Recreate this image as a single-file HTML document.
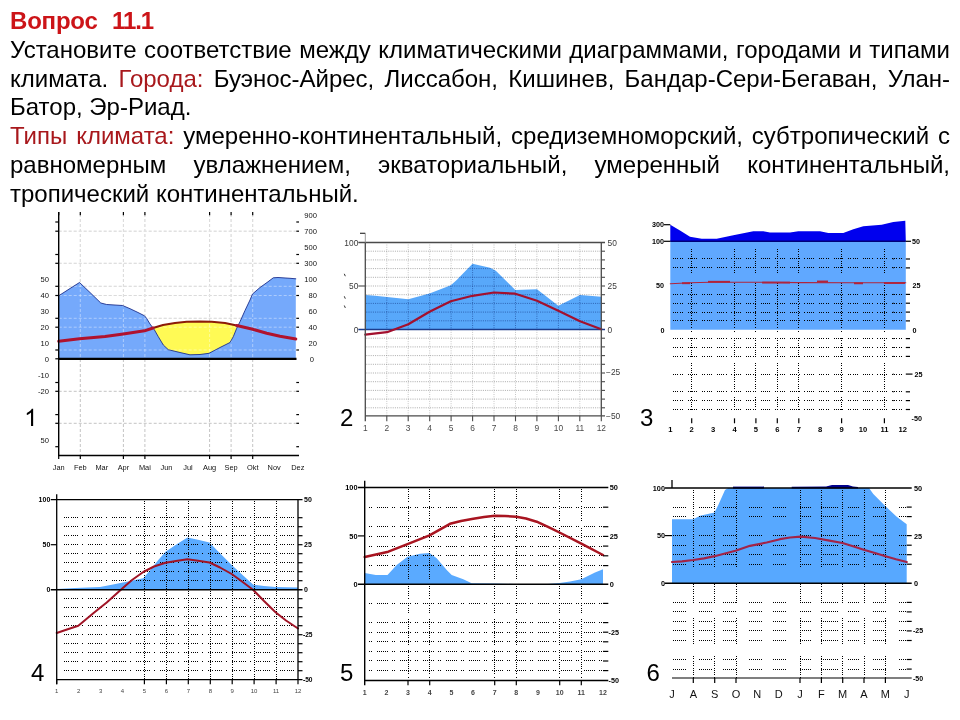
<!DOCTYPE html>
<html lang="ru"><head><meta charset="utf-8"><title>Вопрос 11.1</title>
<style>
html,body{margin:0;padding:0;background:#fff;}
body{width:960px;height:720px;position:relative;overflow:hidden;font-family:"Liberation Sans",sans-serif;color:#000;}
#txt{will-change:transform;position:absolute;left:10px;top:7.1px;width:940px;font-size:24px;line-height:28.8px;}
#txt div{white-space:normal;text-align:justify;text-align-last:justify;height:28.8px;overflow:visible;}
#txt div.l{text-align:left;text-align-last:left;}
#txt .t{font-weight:bold;color:#cc1418;}
#txt .r{color:#a8181c;}
svg{position:absolute;left:0;top:0;will-change:transform;}
</style></head><body>
<div id="txt">
<div class="l t"><span style="letter-spacing:-0.2px">Вопрос</span><span style="letter-spacing:-1.1px;margin-left:14.4px">11.1</span></div>
<div>Установите соответствие между климатическими диаграммами, городами и типами</div>
<div>климата. <span class="r">Города:</span> Буэнос-Айрес, Лиссабон, Кишинев, Бандар-Сери-Бегаван, Улан-</div>
<div class="l">Батор, Эр-Риад.</div>
<div><span class="r">Типы климата:</span> умеренно-континентальный, средиземноморский, субтропический с</div>
<div>равномерным увлажнением, экваториальный, умеренный континентальный,</div>
<div class="l">тропический континентальный.</div>
</div>
<svg width="960" height="720" viewBox="0 0 960 720" font-family="Liberation Sans, sans-serif">
<g id="c1">
<line x1="58.7" y1="231.2" x2="295.8" y2="231.2" stroke="#c4c4c4" stroke-width="1" stroke-dasharray="3 2"/>
<line x1="58.7" y1="263.3" x2="295.8" y2="263.3" stroke="#c4c4c4" stroke-width="1" stroke-dasharray="3 2"/>
<line x1="58.7" y1="286.3" x2="295.8" y2="286.3" stroke="#c4c4c4" stroke-width="1" stroke-dasharray="3 2"/>
<line x1="58.7" y1="295.5" x2="295.8" y2="295.5" stroke="#c4c4c4" stroke-width="1" stroke-dasharray="3 2"/>
<line x1="58.7" y1="318.3" x2="295.8" y2="318.3" stroke="#c4c4c4" stroke-width="1" stroke-dasharray="3 2"/>
<line x1="58.7" y1="327.2" x2="295.8" y2="327.2" stroke="#c4c4c4" stroke-width="1" stroke-dasharray="3 2"/>
<line x1="58.7" y1="350" x2="295.8" y2="350" stroke="#c4c4c4" stroke-width="1" stroke-dasharray="3 2"/>
<line x1="58.7" y1="391.3" x2="295.8" y2="391.3" stroke="#c4c4c4" stroke-width="1" stroke-dasharray="3 2"/>
<line x1="58.7" y1="423.3" x2="295.8" y2="423.3" stroke="#c4c4c4" stroke-width="1" stroke-dasharray="3 2"/>
<line x1="80.3" y1="214" x2="80.3" y2="455.5" stroke="#c4c4c4" stroke-width="1" stroke-dasharray="3 2"/>
<line x1="123.4" y1="214" x2="123.4" y2="455.5" stroke="#c4c4c4" stroke-width="1" stroke-dasharray="3 2"/>
<line x1="144.9" y1="214" x2="144.9" y2="455.5" stroke="#c4c4c4" stroke-width="1" stroke-dasharray="3 2"/>
<line x1="209.6" y1="214" x2="209.6" y2="455.5" stroke="#c4c4c4" stroke-width="1" stroke-dasharray="3 2"/>
<line x1="231.1" y1="214" x2="231.1" y2="455.5" stroke="#c4c4c4" stroke-width="1" stroke-dasharray="3 2"/>
<line x1="252.7" y1="214" x2="252.7" y2="455.5" stroke="#c4c4c4" stroke-width="1" stroke-dasharray="3 2"/>
<polygon points="150,358.8 153,328 163,325 175,323 186.7,321.8 200,321.5 211.7,321.8 225,323 236.7,325.5 239,358.8" fill="#fffa55" stroke="none" stroke-width="0"/>
<polygon points="58.7,358.8 58.7,295.8 70,288.5 79.5,282.5 90,292.5 100.8,303 106.7,304.5 122.5,305.5 130,308.7 138,312.5 144.5,315.8 146.7,318.5 150,324 154.2,329.5 158.3,336.7 163.3,345 168.3,349.7 180,352.5 190,354.8 200,354.5 209,353.3 220,347.5 230,342.5 233.3,336.7 236.7,328.3 240,321.7 245,310.5 250,300 252.5,294 260,287.5 267,282.5 273.3,277.8 278,277.5 290,278.3 295.8,278.8 295.8,358.8" fill="#75a9fb" stroke="none" stroke-width="0"/>
<line x1="58.7" y1="231.2" x2="295.8" y2="231.2" stroke="#ffffff" stroke-width="1" stroke-dasharray="3 2" opacity="0.4"/>
<line x1="58.7" y1="263.3" x2="295.8" y2="263.3" stroke="#ffffff" stroke-width="1" stroke-dasharray="3 2" opacity="0.4"/>
<line x1="58.7" y1="286.3" x2="295.8" y2="286.3" stroke="#ffffff" stroke-width="1" stroke-dasharray="3 2" opacity="0.4"/>
<line x1="58.7" y1="295.5" x2="295.8" y2="295.5" stroke="#ffffff" stroke-width="1" stroke-dasharray="3 2" opacity="0.4"/>
<line x1="58.7" y1="318.3" x2="295.8" y2="318.3" stroke="#ffffff" stroke-width="1" stroke-dasharray="3 2" opacity="0.4"/>
<line x1="58.7" y1="327.2" x2="295.8" y2="327.2" stroke="#ffffff" stroke-width="1" stroke-dasharray="3 2" opacity="0.4"/>
<line x1="58.7" y1="350" x2="295.8" y2="350" stroke="#ffffff" stroke-width="1" stroke-dasharray="3 2" opacity="0.4"/>
<line x1="80.3" y1="214" x2="80.3" y2="358.8" stroke="#ffffff" stroke-width="1" stroke-dasharray="3 2" opacity="0.4"/>
<line x1="123.4" y1="214" x2="123.4" y2="358.8" stroke="#ffffff" stroke-width="1" stroke-dasharray="3 2" opacity="0.4"/>
<line x1="144.9" y1="214" x2="144.9" y2="358.8" stroke="#ffffff" stroke-width="1" stroke-dasharray="3 2" opacity="0.4"/>
<line x1="209.6" y1="214" x2="209.6" y2="358.8" stroke="#ffffff" stroke-width="1" stroke-dasharray="3 2" opacity="0.4"/>
<line x1="231.1" y1="214" x2="231.1" y2="358.8" stroke="#ffffff" stroke-width="1" stroke-dasharray="3 2" opacity="0.4"/>
<line x1="252.7" y1="214" x2="252.7" y2="358.8" stroke="#ffffff" stroke-width="1" stroke-dasharray="3 2" opacity="0.4"/>
<polyline points="58.7,295.8 70,288.5 79.5,282.5 90,292.5 100.8,303 106.7,304.5 122.5,305.5 130,308.7 138,312.5 144.5,315.8 146.7,318.5 150,324 154.2,329.5 158.3,336.7 163.3,345 168.3,349.7 180,352.5 190,354.8 200,354.5 209,353.3 220,347.5 230,342.5 233.3,336.7 236.7,328.3 240,321.7 245,310.5 250,300 252.5,294 260,287.5 267,282.5 273.3,277.8 278,277.5 290,278.3 295.8,278.8" fill="none" stroke="#1c2f8c" stroke-width="0.9" stroke-linejoin="round" stroke-linecap="round"/>
<polyline points="153,328 163,325 175,323 186.7,321.8 200,321.5 211.7,321.8 225,323 236.7,325.5" fill="none" stroke="#8c1a08" stroke-width="2.1" stroke-linejoin="round" stroke-linecap="round"/>
<polyline points="58.7,341.3 79.5,338.7 105,336.6 123.3,334 144.5,330.8 153,328" fill="none" stroke="#b0122e" stroke-width="3" stroke-linejoin="round" stroke-linecap="round"/>
<polyline points="236.7,325.5 251.7,329 266.7,333.3 280,336.3 295.8,339" fill="none" stroke="#b0122e" stroke-width="3" stroke-linejoin="round" stroke-linecap="round"/>
<line x1="58.7" y1="212" x2="58.7" y2="456.1" stroke="#000" stroke-width="1.4"/>
<line x1="58" y1="455.5" x2="299" y2="455.5" stroke="#000" stroke-width="1.4"/>
<line x1="58.7" y1="358.8" x2="296.5" y2="358.8" stroke="#000" stroke-width="2.2"/>
<line x1="55.3" y1="222" x2="58.7" y2="222" stroke="#000" stroke-width="1.2"/>
<line x1="296.3" y1="222" x2="299" y2="222" stroke="#000" stroke-width="1.2"/>
<line x1="55.3" y1="231.2" x2="58.7" y2="231.2" stroke="#000" stroke-width="1.2"/>
<line x1="296.3" y1="231.2" x2="299" y2="231.2" stroke="#000" stroke-width="1.2"/>
<line x1="55.3" y1="254.5" x2="58.7" y2="254.5" stroke="#000" stroke-width="1.2"/>
<line x1="296.3" y1="254.5" x2="299" y2="254.5" stroke="#000" stroke-width="1.2"/>
<line x1="55.3" y1="263.3" x2="58.7" y2="263.3" stroke="#000" stroke-width="1.2"/>
<line x1="296.3" y1="263.3" x2="299" y2="263.3" stroke="#000" stroke-width="1.2"/>
<line x1="55.3" y1="286.3" x2="58.7" y2="286.3" stroke="#000" stroke-width="1.2"/>
<line x1="296.3" y1="286.3" x2="299" y2="286.3" stroke="#000" stroke-width="1.2"/>
<line x1="55.3" y1="295.5" x2="58.7" y2="295.5" stroke="#000" stroke-width="1.2"/>
<line x1="296.3" y1="295.5" x2="299" y2="295.5" stroke="#000" stroke-width="1.2"/>
<line x1="55.3" y1="318.3" x2="58.7" y2="318.3" stroke="#000" stroke-width="1.2"/>
<line x1="296.3" y1="318.3" x2="299" y2="318.3" stroke="#000" stroke-width="1.2"/>
<line x1="55.3" y1="327.2" x2="58.7" y2="327.2" stroke="#000" stroke-width="1.2"/>
<line x1="296.3" y1="327.2" x2="299" y2="327.2" stroke="#000" stroke-width="1.2"/>
<line x1="55.3" y1="350" x2="58.7" y2="350" stroke="#000" stroke-width="1.2"/>
<line x1="296.3" y1="350" x2="299" y2="350" stroke="#000" stroke-width="1.2"/>
<line x1="55.3" y1="382.5" x2="58.7" y2="382.5" stroke="#000" stroke-width="1.2"/>
<line x1="296.3" y1="382.5" x2="299" y2="382.5" stroke="#000" stroke-width="1.2"/>
<line x1="55.3" y1="391.3" x2="58.7" y2="391.3" stroke="#000" stroke-width="1.2"/>
<line x1="296.3" y1="391.3" x2="299" y2="391.3" stroke="#000" stroke-width="1.2"/>
<line x1="55.3" y1="414.6" x2="58.7" y2="414.6" stroke="#000" stroke-width="1.2"/>
<line x1="296.3" y1="414.6" x2="299" y2="414.6" stroke="#000" stroke-width="1.2"/>
<line x1="55.3" y1="423.3" x2="58.7" y2="423.3" stroke="#000" stroke-width="1.2"/>
<line x1="296.3" y1="423.3" x2="299" y2="423.3" stroke="#000" stroke-width="1.2"/>
<line x1="55.3" y1="446.7" x2="58.7" y2="446.7" stroke="#000" stroke-width="1.2"/>
<line x1="296.3" y1="446.7" x2="299" y2="446.7" stroke="#000" stroke-width="1.2"/>
<line x1="55.3" y1="358.8" x2="58.7" y2="358.8" stroke="#000" stroke-width="1.2"/>
<line x1="58.7" y1="212" x2="58.7" y2="215.2" stroke="#000" stroke-width="1.2"/>
<line x1="58.7" y1="455.5" x2="58.7" y2="459" stroke="#000" stroke-width="1.2"/>
<line x1="80.3" y1="212" x2="80.3" y2="215.2" stroke="#000" stroke-width="1.2"/>
<line x1="80.3" y1="455.5" x2="80.3" y2="459" stroke="#000" stroke-width="1.2"/>
<line x1="123.4" y1="212" x2="123.4" y2="215.2" stroke="#000" stroke-width="1.2"/>
<line x1="123.4" y1="455.5" x2="123.4" y2="459" stroke="#000" stroke-width="1.2"/>
<line x1="144.9" y1="212" x2="144.9" y2="215.2" stroke="#000" stroke-width="1.2"/>
<line x1="144.9" y1="455.5" x2="144.9" y2="459" stroke="#000" stroke-width="1.2"/>
<line x1="209.6" y1="212" x2="209.6" y2="215.2" stroke="#000" stroke-width="1.2"/>
<line x1="209.6" y1="455.5" x2="209.6" y2="459" stroke="#000" stroke-width="1.2"/>
<line x1="231.1" y1="212" x2="231.1" y2="215.2" stroke="#000" stroke-width="1.2"/>
<line x1="231.1" y1="455.5" x2="231.1" y2="459" stroke="#000" stroke-width="1.2"/>
<line x1="252.7" y1="212" x2="252.7" y2="215.2" stroke="#000" stroke-width="1.2"/>
<line x1="252.7" y1="455.5" x2="252.7" y2="459" stroke="#000" stroke-width="1.2"/>
<text x="49" y="281.7" font-size="7.6" text-anchor="end" fill="#111">50</text>
<text x="49" y="298.2" font-size="7.6" text-anchor="end" fill="#111">40</text>
<text x="49" y="313.7" font-size="7.6" text-anchor="end" fill="#111">30</text>
<text x="49" y="329.7" font-size="7.6" text-anchor="end" fill="#111">20</text>
<text x="49" y="346.1" font-size="7.6" text-anchor="end" fill="#111">10</text>
<text x="49" y="362.2" font-size="7.6" text-anchor="end" fill="#111">0</text>
<text x="49" y="378.4" font-size="7.6" text-anchor="end" fill="#111">-10</text>
<text x="49" y="394.3" font-size="7.6" text-anchor="end" fill="#111">-20</text>
<text x="49" y="443" font-size="7.6" text-anchor="end" fill="#111">50</text>
<text x="317" y="218" font-size="7.6" text-anchor="end" fill="#111">900</text>
<text x="317" y="233.7" font-size="7.6" text-anchor="end" fill="#111">700</text>
<text x="317" y="249.7" font-size="7.6" text-anchor="end" fill="#111">500</text>
<text x="317" y="266.2" font-size="7.6" text-anchor="end" fill="#111">300</text>
<text x="317" y="281.7" font-size="7.6" text-anchor="end" fill="#111">100</text>
<text x="317" y="298.2" font-size="7.6" text-anchor="end" fill="#111">80</text>
<text x="317" y="313.7" font-size="7.6" text-anchor="end" fill="#111">60</text>
<text x="317" y="329.7" font-size="7.6" text-anchor="end" fill="#111">40</text>
<text x="317" y="346.1" font-size="7.6" text-anchor="end" fill="#111">20</text>
<text x="314" y="362.2" font-size="7.6" text-anchor="end" fill="#111">0</text>
<text x="58.7" y="469.6" font-size="7.4" text-anchor="middle" fill="#111">Jan</text>
<text x="80.3" y="469.6" font-size="7.4" text-anchor="middle" fill="#111">Feb</text>
<text x="101.8" y="469.6" font-size="7.4" text-anchor="middle" fill="#111">Mar</text>
<text x="123.4" y="469.6" font-size="7.4" text-anchor="middle" fill="#111">Apr</text>
<text x="144.9" y="469.6" font-size="7.4" text-anchor="middle" fill="#111">Mai</text>
<text x="166.5" y="469.6" font-size="7.4" text-anchor="middle" fill="#111">Jun</text>
<text x="188" y="469.6" font-size="7.4" text-anchor="middle" fill="#111">Jul</text>
<text x="209.6" y="469.6" font-size="7.4" text-anchor="middle" fill="#111">Aug</text>
<text x="231.1" y="469.6" font-size="7.4" text-anchor="middle" fill="#111">Sep</text>
<text x="252.7" y="469.6" font-size="7.4" text-anchor="middle" fill="#111">Okt</text>
<text x="274.2" y="469.6" font-size="7.4" text-anchor="middle" fill="#111">Nov</text>
<text x="297.8" y="469.6" font-size="7.4" text-anchor="middle" fill="#111">Dez</text>
<path transform="translate(24.2 426) scale(0.01172 -0.01172)" d="M 763 0 H 583 V 1147 Q 518 1085 412.5 1023 Q 307 961 223 930 V 1104 Q 374 1175 487 1276 Q 600 1377 647 1472 H 763 Z" fill="#000"/>
</g>
<g id="c2">
<line x1="366.3" y1="251.2" x2="600.3" y2="251.2" stroke="#777" stroke-width="1" stroke-dasharray="1 1.2" opacity="0.62"/>
<line x1="366.3" y1="259.9" x2="600.3" y2="259.9" stroke="#777" stroke-width="1" stroke-dasharray="1 1.2" opacity="0.62"/>
<line x1="366.3" y1="268.6" x2="600.3" y2="268.6" stroke="#777" stroke-width="1" stroke-dasharray="1 1.2" opacity="0.62"/>
<line x1="366.3" y1="277.3" x2="600.3" y2="277.3" stroke="#777" stroke-width="1" stroke-dasharray="1 1.2" opacity="0.62"/>
<line x1="366.3" y1="286" x2="600.3" y2="286" stroke="#777" stroke-width="1" stroke-dasharray="1 1.2" opacity="0.62"/>
<line x1="366.3" y1="294.7" x2="600.3" y2="294.7" stroke="#777" stroke-width="1" stroke-dasharray="1 1.2" opacity="0.62"/>
<line x1="366.3" y1="303.4" x2="600.3" y2="303.4" stroke="#777" stroke-width="1" stroke-dasharray="1 1.2" opacity="0.62"/>
<line x1="366.3" y1="312.1" x2="600.3" y2="312.1" stroke="#777" stroke-width="1" stroke-dasharray="1 1.2" opacity="0.62"/>
<line x1="366.3" y1="320.8" x2="600.3" y2="320.8" stroke="#777" stroke-width="1" stroke-dasharray="1 1.2" opacity="0.62"/>
<line x1="366.3" y1="338.2" x2="600.3" y2="338.2" stroke="#777" stroke-width="1" stroke-dasharray="1 1.2" opacity="0.62"/>
<line x1="366.3" y1="346.9" x2="600.3" y2="346.9" stroke="#777" stroke-width="1" stroke-dasharray="1 1.2" opacity="0.62"/>
<line x1="366.3" y1="355.6" x2="600.3" y2="355.6" stroke="#777" stroke-width="1" stroke-dasharray="1 1.2" opacity="0.62"/>
<line x1="366.3" y1="364.3" x2="600.3" y2="364.3" stroke="#777" stroke-width="1" stroke-dasharray="1 1.2" opacity="0.62"/>
<line x1="366.3" y1="373" x2="600.3" y2="373" stroke="#777" stroke-width="1" stroke-dasharray="1 1.2" opacity="0.62"/>
<line x1="366.3" y1="381.7" x2="600.3" y2="381.7" stroke="#777" stroke-width="1" stroke-dasharray="1 1.2" opacity="0.62"/>
<line x1="366.3" y1="390.4" x2="600.3" y2="390.4" stroke="#777" stroke-width="1" stroke-dasharray="1 1.2" opacity="0.62"/>
<line x1="366.3" y1="399.1" x2="600.3" y2="399.1" stroke="#777" stroke-width="1" stroke-dasharray="1 1.2" opacity="0.62"/>
<line x1="366.3" y1="407.8" x2="600.3" y2="407.8" stroke="#777" stroke-width="1" stroke-dasharray="1 1.2" opacity="0.62"/>
<line x1="386.8" y1="244.5" x2="386.8" y2="415.8" stroke="#777" stroke-width="1" stroke-dasharray="1 1.3" opacity="0.42"/>
<line x1="408.2" y1="244.5" x2="408.2" y2="415.8" stroke="#777" stroke-width="1" stroke-dasharray="1 1.3" opacity="0.42"/>
<line x1="429.7" y1="244.5" x2="429.7" y2="415.8" stroke="#777" stroke-width="1" stroke-dasharray="1 1.3" opacity="0.42"/>
<line x1="451.1" y1="244.5" x2="451.1" y2="415.8" stroke="#777" stroke-width="1" stroke-dasharray="1 1.3" opacity="0.42"/>
<line x1="472.6" y1="244.5" x2="472.6" y2="415.8" stroke="#777" stroke-width="1" stroke-dasharray="1 1.3" opacity="0.42"/>
<line x1="494" y1="244.5" x2="494" y2="415.8" stroke="#777" stroke-width="1" stroke-dasharray="1 1.3" opacity="0.42"/>
<line x1="515.5" y1="244.5" x2="515.5" y2="415.8" stroke="#777" stroke-width="1" stroke-dasharray="1 1.3" opacity="0.42"/>
<line x1="536.9" y1="244.5" x2="536.9" y2="415.8" stroke="#777" stroke-width="1" stroke-dasharray="1 1.3" opacity="0.42"/>
<line x1="558.4" y1="244.5" x2="558.4" y2="415.8" stroke="#777" stroke-width="1" stroke-dasharray="1 1.3" opacity="0.42"/>
<line x1="579.8" y1="244.5" x2="579.8" y2="415.8" stroke="#777" stroke-width="1" stroke-dasharray="1 1.3" opacity="0.42"/>
<clipPath id="cp2"><polygon points="365.3,329.5 365.3,295 375,295.8 387,297 408.3,299.2 429.5,293.5 450.8,285.3 456.7,280 472.5,263.7 490,267.8 495.8,270.8 515.3,290 537,289.2 546.7,296.7 558.3,305.8 580,295 601.3,296.7 601.3,329.5"/></clipPath>
<polygon points="365.3,329.5 365.3,295 375,295.8 387,297 408.3,299.2 429.5,293.5 450.8,285.3 456.7,280 472.5,263.7 490,267.8 495.8,270.8 515.3,290 537,289.2 546.7,296.7 558.3,305.8 580,295 601.3,296.7 601.3,329.5" fill="#58a8fa" stroke="none" stroke-width="0"/>
<g clip-path="url(#cp2)">
<line x1="366.3" y1="251.2" x2="600.3" y2="251.2" stroke="#0a2a78" stroke-width="1" stroke-dasharray="1 1.2" opacity="0.55"/>
<line x1="366.3" y1="259.9" x2="600.3" y2="259.9" stroke="#0a2a78" stroke-width="1" stroke-dasharray="1 1.2" opacity="0.55"/>
<line x1="366.3" y1="268.6" x2="600.3" y2="268.6" stroke="#0a2a78" stroke-width="1" stroke-dasharray="1 1.2" opacity="0.55"/>
<line x1="366.3" y1="277.3" x2="600.3" y2="277.3" stroke="#0a2a78" stroke-width="1" stroke-dasharray="1 1.2" opacity="0.55"/>
<line x1="366.3" y1="286" x2="600.3" y2="286" stroke="#0a2a78" stroke-width="1" stroke-dasharray="1 1.2" opacity="0.55"/>
<line x1="366.3" y1="294.7" x2="600.3" y2="294.7" stroke="#0a2a78" stroke-width="1" stroke-dasharray="1 1.2" opacity="0.55"/>
<line x1="366.3" y1="303.4" x2="600.3" y2="303.4" stroke="#0a2a78" stroke-width="1" stroke-dasharray="1 1.2" opacity="0.55"/>
<line x1="366.3" y1="312.1" x2="600.3" y2="312.1" stroke="#0a2a78" stroke-width="1" stroke-dasharray="1 1.2" opacity="0.55"/>
<line x1="366.3" y1="320.8" x2="600.3" y2="320.8" stroke="#0a2a78" stroke-width="1" stroke-dasharray="1 1.2" opacity="0.55"/>
<line x1="366.3" y1="338.2" x2="600.3" y2="338.2" stroke="#0a2a78" stroke-width="1" stroke-dasharray="1 1.2" opacity="0.55"/>
<line x1="366.3" y1="346.9" x2="600.3" y2="346.9" stroke="#0a2a78" stroke-width="1" stroke-dasharray="1 1.2" opacity="0.55"/>
<line x1="366.3" y1="355.6" x2="600.3" y2="355.6" stroke="#0a2a78" stroke-width="1" stroke-dasharray="1 1.2" opacity="0.55"/>
<line x1="366.3" y1="364.3" x2="600.3" y2="364.3" stroke="#0a2a78" stroke-width="1" stroke-dasharray="1 1.2" opacity="0.55"/>
<line x1="366.3" y1="373" x2="600.3" y2="373" stroke="#0a2a78" stroke-width="1" stroke-dasharray="1 1.2" opacity="0.55"/>
<line x1="366.3" y1="381.7" x2="600.3" y2="381.7" stroke="#0a2a78" stroke-width="1" stroke-dasharray="1 1.2" opacity="0.55"/>
<line x1="366.3" y1="390.4" x2="600.3" y2="390.4" stroke="#0a2a78" stroke-width="1" stroke-dasharray="1 1.2" opacity="0.55"/>
<line x1="366.3" y1="399.1" x2="600.3" y2="399.1" stroke="#0a2a78" stroke-width="1" stroke-dasharray="1 1.2" opacity="0.55"/>
<line x1="366.3" y1="407.8" x2="600.3" y2="407.8" stroke="#0a2a78" stroke-width="1" stroke-dasharray="1 1.2" opacity="0.55"/>
<line x1="386.8" y1="244.5" x2="386.8" y2="415.8" stroke="#0a2a78" stroke-width="1" stroke-dasharray="1 1.3" opacity="0.5"/>
<line x1="408.2" y1="244.5" x2="408.2" y2="415.8" stroke="#0a2a78" stroke-width="1" stroke-dasharray="1 1.3" opacity="0.5"/>
<line x1="429.7" y1="244.5" x2="429.7" y2="415.8" stroke="#0a2a78" stroke-width="1" stroke-dasharray="1 1.3" opacity="0.5"/>
<line x1="451.1" y1="244.5" x2="451.1" y2="415.8" stroke="#0a2a78" stroke-width="1" stroke-dasharray="1 1.3" opacity="0.5"/>
<line x1="472.6" y1="244.5" x2="472.6" y2="415.8" stroke="#0a2a78" stroke-width="1" stroke-dasharray="1 1.3" opacity="0.5"/>
<line x1="494" y1="244.5" x2="494" y2="415.8" stroke="#0a2a78" stroke-width="1" stroke-dasharray="1 1.3" opacity="0.5"/>
<line x1="515.5" y1="244.5" x2="515.5" y2="415.8" stroke="#0a2a78" stroke-width="1" stroke-dasharray="1 1.3" opacity="0.5"/>
<line x1="536.9" y1="244.5" x2="536.9" y2="415.8" stroke="#0a2a78" stroke-width="1" stroke-dasharray="1 1.3" opacity="0.5"/>
<line x1="558.4" y1="244.5" x2="558.4" y2="415.8" stroke="#0a2a78" stroke-width="1" stroke-dasharray="1 1.3" opacity="0.5"/>
<line x1="579.8" y1="244.5" x2="579.8" y2="415.8" stroke="#0a2a78" stroke-width="1" stroke-dasharray="1 1.3" opacity="0.5"/>
</g>
<line x1="358.3" y1="329.5" x2="605" y2="329.5" stroke="#1d3c8c" stroke-width="1.3"/>
<polyline points="365.3,334.7 376,333.3 387,332.2 397,328.5 408.3,324.2 429.5,311.7 450.8,301.3 472.5,295.8 494,292.5 515.3,293.7 537,300.8 558.3,310.8 580,321.3 601.3,329.2" fill="none" stroke="#a3102e" stroke-width="2.2" stroke-linejoin="round" stroke-linecap="round"/>
<line x1="358.3" y1="242.5" x2="605" y2="242.5" stroke="#4a4a4a" stroke-width="1.4"/>
<line x1="365.3" y1="242.5" x2="365.3" y2="421.3" stroke="#4a4a4a" stroke-width="1.3"/>
<line x1="365.3" y1="233.5" x2="365.3" y2="242.5" stroke="#999" stroke-width="1"/>
<line x1="601.3" y1="242.5" x2="601.3" y2="415.8" stroke="#4a4a4a" stroke-width="1.3"/>
<line x1="365.3" y1="415.8" x2="605" y2="415.8" stroke="#4a4a4a" stroke-width="1.3"/>
<line x1="360" y1="233.3" x2="365.3" y2="233.3" stroke="#333" stroke-width="1.2"/>
<line x1="358.3" y1="286" x2="365.3" y2="286" stroke="#4a4a4a" stroke-width="1.1"/>
<line x1="601.3" y1="251.2" x2="605" y2="251.2" stroke="#4a4a4a" stroke-width="1.1"/>
<line x1="601.3" y1="259.9" x2="605" y2="259.9" stroke="#4a4a4a" stroke-width="1.1"/>
<line x1="601.3" y1="268.6" x2="605" y2="268.6" stroke="#4a4a4a" stroke-width="1.1"/>
<line x1="601.3" y1="277.3" x2="605" y2="277.3" stroke="#4a4a4a" stroke-width="1.1"/>
<line x1="601.3" y1="286" x2="605" y2="286" stroke="#4a4a4a" stroke-width="1.1"/>
<line x1="601.3" y1="294.7" x2="605" y2="294.7" stroke="#4a4a4a" stroke-width="1.1"/>
<line x1="601.3" y1="303.4" x2="605" y2="303.4" stroke="#4a4a4a" stroke-width="1.1"/>
<line x1="601.3" y1="312.1" x2="605" y2="312.1" stroke="#4a4a4a" stroke-width="1.1"/>
<line x1="601.3" y1="320.8" x2="605" y2="320.8" stroke="#4a4a4a" stroke-width="1.1"/>
<line x1="601.3" y1="338.2" x2="605" y2="338.2" stroke="#4a4a4a" stroke-width="1.1"/>
<line x1="601.3" y1="346.9" x2="605" y2="346.9" stroke="#4a4a4a" stroke-width="1.1"/>
<line x1="601.3" y1="355.6" x2="605" y2="355.6" stroke="#4a4a4a" stroke-width="1.1"/>
<line x1="601.3" y1="364.3" x2="605" y2="364.3" stroke="#4a4a4a" stroke-width="1.1"/>
<line x1="601.3" y1="373" x2="605" y2="373" stroke="#4a4a4a" stroke-width="1.1"/>
<line x1="601.3" y1="381.7" x2="605" y2="381.7" stroke="#4a4a4a" stroke-width="1.1"/>
<line x1="601.3" y1="390.4" x2="605" y2="390.4" stroke="#4a4a4a" stroke-width="1.1"/>
<line x1="601.3" y1="399.1" x2="605" y2="399.1" stroke="#4a4a4a" stroke-width="1.1"/>
<line x1="601.3" y1="407.8" x2="605" y2="407.8" stroke="#4a4a4a" stroke-width="1.1"/>
<line x1="386.8" y1="415.8" x2="386.8" y2="421.3" stroke="#4a4a4a" stroke-width="1.1"/>
<line x1="408.2" y1="415.8" x2="408.2" y2="421.3" stroke="#4a4a4a" stroke-width="1.1"/>
<line x1="429.7" y1="415.8" x2="429.7" y2="421.3" stroke="#4a4a4a" stroke-width="1.1"/>
<line x1="451.1" y1="415.8" x2="451.1" y2="421.3" stroke="#4a4a4a" stroke-width="1.1"/>
<line x1="472.6" y1="415.8" x2="472.6" y2="421.3" stroke="#4a4a4a" stroke-width="1.1"/>
<line x1="494" y1="415.8" x2="494" y2="421.3" stroke="#4a4a4a" stroke-width="1.1"/>
<line x1="515.5" y1="415.8" x2="515.5" y2="421.3" stroke="#4a4a4a" stroke-width="1.1"/>
<line x1="536.9" y1="415.8" x2="536.9" y2="421.3" stroke="#4a4a4a" stroke-width="1.1"/>
<line x1="558.4" y1="415.8" x2="558.4" y2="421.3" stroke="#4a4a4a" stroke-width="1.1"/>
<line x1="579.8" y1="415.8" x2="579.8" y2="421.3" stroke="#4a4a4a" stroke-width="1.1"/>
<line x1="601.3" y1="415.8" x2="601.3" y2="421.3" stroke="#4a4a4a" stroke-width="1.1"/>
<text x="358.3" y="245.5" font-size="8.4" text-anchor="end" fill="#3a3a3a">100</text>
<text x="358.3" y="289" font-size="8.4" text-anchor="end" fill="#3a3a3a">50</text>
<text x="358.3" y="332.5" font-size="8.4" text-anchor="end" fill="#3a3a3a">0</text>
<text x="607.6" y="245.5" font-size="8.4" text-anchor="start" fill="#3a3a3a">50</text>
<text x="607.6" y="289" font-size="8.4" text-anchor="start" fill="#3a3a3a">25</text>
<text x="607.6" y="332.5" font-size="8.4" text-anchor="start" fill="#3a3a3a">0</text>
<text x="606" y="375.4" font-size="8.4" text-anchor="start" fill="#3a3a3a">−25</text>
<text x="606" y="419" font-size="8.4" text-anchor="start" fill="#3a3a3a">−50</text>
<text x="365.3" y="431" font-size="8.4" text-anchor="middle" fill="#4a4a4a">1</text>
<text x="386.8" y="431" font-size="8.4" text-anchor="middle" fill="#4a4a4a">2</text>
<text x="408.2" y="431" font-size="8.4" text-anchor="middle" fill="#4a4a4a">3</text>
<text x="429.7" y="431" font-size="8.4" text-anchor="middle" fill="#4a4a4a">4</text>
<text x="451.1" y="431" font-size="8.4" text-anchor="middle" fill="#4a4a4a">5</text>
<text x="472.6" y="431" font-size="8.4" text-anchor="middle" fill="#4a4a4a">6</text>
<text x="494" y="431" font-size="8.4" text-anchor="middle" fill="#4a4a4a">7</text>
<text x="515.5" y="431" font-size="8.4" text-anchor="middle" fill="#4a4a4a">8</text>
<text x="536.9" y="431" font-size="8.4" text-anchor="middle" fill="#4a4a4a">9</text>
<text x="558.4" y="431" font-size="8.4" text-anchor="middle" fill="#4a4a4a">10</text>
<text x="579.8" y="431" font-size="8.4" text-anchor="middle" fill="#4a4a4a">11</text>
<text x="601.3" y="431" font-size="8.4" text-anchor="middle" fill="#4a4a4a">12</text>
<line x1="344.3" y1="273.8" x2="345.3" y2="276.2" stroke="#333" stroke-width="1"/>
<line x1="344.3" y1="296.3" x2="345.3" y2="298.7" stroke="#333" stroke-width="1"/>
<line x1="344.3" y1="305.5" x2="345.3" y2="307.9" stroke="#333" stroke-width="1"/>
<text x="340" y="426.3" font-size="24" fill="#000">2</text>
</g>
<g id="c3">
<polygon points="670.3,241.3 905.8,241.3 905.8,329.8 670.3,329.8" fill="#60a8ff" stroke="none" stroke-width="0"/>
<polygon points="670.3,224.7 680,230.5 690,236.7 701.7,238.7 716.7,238.7 733.3,235.3 753.3,231.2 763.3,231.2 770,232.5 790,232.5 798.3,231.3 820,231.3 828.3,233 843.3,233 853.3,229.2 863.3,226.2 881.7,224.7 893.3,222 905.3,220.8 905.8,241.3 670.3,241.3" fill="#0000ee" stroke="none" stroke-width="0"/>
<line x1="670.3" y1="241.3" x2="905.8" y2="241.3" stroke="#000078" stroke-width="1.6"/>
<line x1="673" y1="258.5" x2="906" y2="258.5" stroke="#000" stroke-width="1" stroke-dasharray="1 1.2 1 1.2 1 1.2 1 1.2 1 4.8" shape-rendering="crispEdges"/>
<line x1="673" y1="267.5" x2="906" y2="267.5" stroke="#000" stroke-width="1" stroke-dasharray="1 1.2 1 1.2 1 1.2 1 1.2 1 4.8" shape-rendering="crispEdges"/>
<line x1="673" y1="294.5" x2="906" y2="294.5" stroke="#000" stroke-width="1" stroke-dasharray="1 1.2 1 1.2 1 1.2 1 1.2 1 4.8" shape-rendering="crispEdges"/>
<line x1="673" y1="303.5" x2="906" y2="303.5" stroke="#000" stroke-width="1" stroke-dasharray="1 1.2 1 1.2 1 1.2 1 1.2 1 4.8" shape-rendering="crispEdges"/>
<line x1="673" y1="312.5" x2="906" y2="312.5" stroke="#000" stroke-width="1" stroke-dasharray="1 1.2 1 1.2 1 1.2 1 1.2 1 4.8" shape-rendering="crispEdges"/>
<line x1="673" y1="320.5" x2="906" y2="320.5" stroke="#000" stroke-width="1" stroke-dasharray="1 1.2 1 1.2 1 1.2 1 1.2 1 4.8" shape-rendering="crispEdges"/>
<line x1="673" y1="338.5" x2="906" y2="338.5" stroke="#000" stroke-width="1" stroke-dasharray="1 1.2 1 1.2 1 1.2 1 1.2 1 4.8" shape-rendering="crispEdges"/>
<line x1="673" y1="347.5" x2="906" y2="347.5" stroke="#000" stroke-width="1" stroke-dasharray="1 1.2 1 1.2 1 1.2 1 1.2 1 4.8" shape-rendering="crispEdges"/>
<line x1="673" y1="356.5" x2="906" y2="356.5" stroke="#000" stroke-width="1" stroke-dasharray="1 1.2 1 1.2 1 1.2 1 1.2 1 4.8" shape-rendering="crispEdges"/>
<line x1="673" y1="374.5" x2="906" y2="374.5" stroke="#000" stroke-width="1" stroke-dasharray="1 1.2 1 1.2 1 1.2 1 1.2 1 4.8" shape-rendering="crispEdges"/>
<line x1="673" y1="391.5" x2="906" y2="391.5" stroke="#000" stroke-width="1" stroke-dasharray="1 1.2 1 1.2 1 1.2 1 1.2 1 4.8" shape-rendering="crispEdges"/>
<line x1="673" y1="400.5" x2="906" y2="400.5" stroke="#000" stroke-width="1" stroke-dasharray="1 1.2 1 1.2 1 1.2 1 1.2 1 4.8" shape-rendering="crispEdges"/>
<line x1="673" y1="409.5" x2="906" y2="409.5" stroke="#000" stroke-width="1" stroke-dasharray="1 1.2 1 1.2 1 1.2 1 1.2 1 4.8" shape-rendering="crispEdges"/>
<line x1="691.5" y1="249" x2="691.5" y2="274" stroke="#000" stroke-width="1" stroke-dasharray="1 1.3" shape-rendering="crispEdges"/>
<line x1="691.5" y1="283" x2="691.5" y2="328" stroke="#000" stroke-width="1" stroke-dasharray="1 1.3" shape-rendering="crispEdges"/>
<line x1="691.5" y1="331" x2="691.5" y2="332" stroke="#000" stroke-width="1" stroke-dasharray="1 1.3" shape-rendering="crispEdges"/>
<line x1="691.5" y1="338" x2="691.5" y2="357" stroke="#000" stroke-width="1" stroke-dasharray="1 1.3" shape-rendering="crispEdges"/>
<line x1="691.5" y1="363" x2="691.5" y2="392" stroke="#000" stroke-width="1" stroke-dasharray="1 1.3" shape-rendering="crispEdges"/>
<line x1="691.5" y1="397" x2="691.5" y2="411" stroke="#000" stroke-width="1" stroke-dasharray="1 1.3" shape-rendering="crispEdges"/>
<line x1="691.7" y1="418.3" x2="691.7" y2="423.3" stroke="#000" stroke-width="1.2"/>
<line x1="734.5" y1="249" x2="734.5" y2="274" stroke="#000" stroke-width="1" stroke-dasharray="1 1.3" shape-rendering="crispEdges"/>
<line x1="734.5" y1="283" x2="734.5" y2="328" stroke="#000" stroke-width="1" stroke-dasharray="1 1.3" shape-rendering="crispEdges"/>
<line x1="734.5" y1="331" x2="734.5" y2="332" stroke="#000" stroke-width="1" stroke-dasharray="1 1.3" shape-rendering="crispEdges"/>
<line x1="734.5" y1="338" x2="734.5" y2="357" stroke="#000" stroke-width="1" stroke-dasharray="1 1.3" shape-rendering="crispEdges"/>
<line x1="734.5" y1="363" x2="734.5" y2="392" stroke="#000" stroke-width="1" stroke-dasharray="1 1.3" shape-rendering="crispEdges"/>
<line x1="734.5" y1="397" x2="734.5" y2="411" stroke="#000" stroke-width="1" stroke-dasharray="1 1.3" shape-rendering="crispEdges"/>
<line x1="734.5" y1="418.3" x2="734.5" y2="423.3" stroke="#000" stroke-width="1.2"/>
<line x1="755.5" y1="249" x2="755.5" y2="274" stroke="#000" stroke-width="1" stroke-dasharray="1 1.3" shape-rendering="crispEdges"/>
<line x1="755.5" y1="283" x2="755.5" y2="328" stroke="#000" stroke-width="1" stroke-dasharray="1 1.3" shape-rendering="crispEdges"/>
<line x1="755.5" y1="331" x2="755.5" y2="332" stroke="#000" stroke-width="1" stroke-dasharray="1 1.3" shape-rendering="crispEdges"/>
<line x1="755.5" y1="338" x2="755.5" y2="357" stroke="#000" stroke-width="1" stroke-dasharray="1 1.3" shape-rendering="crispEdges"/>
<line x1="755.5" y1="363" x2="755.5" y2="392" stroke="#000" stroke-width="1" stroke-dasharray="1 1.3" shape-rendering="crispEdges"/>
<line x1="755.5" y1="397" x2="755.5" y2="411" stroke="#000" stroke-width="1" stroke-dasharray="1 1.3" shape-rendering="crispEdges"/>
<line x1="755.9" y1="418.3" x2="755.9" y2="423.3" stroke="#000" stroke-width="1.2"/>
<line x1="777.5" y1="249" x2="777.5" y2="274" stroke="#000" stroke-width="1" stroke-dasharray="1 1.3" shape-rendering="crispEdges"/>
<line x1="777.5" y1="283" x2="777.5" y2="328" stroke="#000" stroke-width="1" stroke-dasharray="1 1.3" shape-rendering="crispEdges"/>
<line x1="777.5" y1="331" x2="777.5" y2="332" stroke="#000" stroke-width="1" stroke-dasharray="1 1.3" shape-rendering="crispEdges"/>
<line x1="777.5" y1="338" x2="777.5" y2="357" stroke="#000" stroke-width="1" stroke-dasharray="1 1.3" shape-rendering="crispEdges"/>
<line x1="777.5" y1="363" x2="777.5" y2="392" stroke="#000" stroke-width="1" stroke-dasharray="1 1.3" shape-rendering="crispEdges"/>
<line x1="777.5" y1="397" x2="777.5" y2="411" stroke="#000" stroke-width="1" stroke-dasharray="1 1.3" shape-rendering="crispEdges"/>
<line x1="777.3" y1="418.3" x2="777.3" y2="423.3" stroke="#000" stroke-width="1.2"/>
<line x1="798.5" y1="249" x2="798.5" y2="274" stroke="#000" stroke-width="1" stroke-dasharray="1 1.3" shape-rendering="crispEdges"/>
<line x1="798.5" y1="283" x2="798.5" y2="328" stroke="#000" stroke-width="1" stroke-dasharray="1 1.3" shape-rendering="crispEdges"/>
<line x1="798.5" y1="331" x2="798.5" y2="332" stroke="#000" stroke-width="1" stroke-dasharray="1 1.3" shape-rendering="crispEdges"/>
<line x1="798.5" y1="338" x2="798.5" y2="357" stroke="#000" stroke-width="1" stroke-dasharray="1 1.3" shape-rendering="crispEdges"/>
<line x1="798.5" y1="363" x2="798.5" y2="392" stroke="#000" stroke-width="1" stroke-dasharray="1 1.3" shape-rendering="crispEdges"/>
<line x1="798.5" y1="397" x2="798.5" y2="411" stroke="#000" stroke-width="1" stroke-dasharray="1 1.3" shape-rendering="crispEdges"/>
<line x1="798.8" y1="418.3" x2="798.8" y2="423.3" stroke="#000" stroke-width="1.2"/>
<line x1="841.5" y1="249" x2="841.5" y2="274" stroke="#000" stroke-width="1" stroke-dasharray="1 1.3" shape-rendering="crispEdges"/>
<line x1="841.5" y1="283" x2="841.5" y2="328" stroke="#000" stroke-width="1" stroke-dasharray="1 1.3" shape-rendering="crispEdges"/>
<line x1="841.5" y1="331" x2="841.5" y2="332" stroke="#000" stroke-width="1" stroke-dasharray="1 1.3" shape-rendering="crispEdges"/>
<line x1="841.5" y1="338" x2="841.5" y2="357" stroke="#000" stroke-width="1" stroke-dasharray="1 1.3" shape-rendering="crispEdges"/>
<line x1="841.5" y1="363" x2="841.5" y2="392" stroke="#000" stroke-width="1" stroke-dasharray="1 1.3" shape-rendering="crispEdges"/>
<line x1="841.5" y1="397" x2="841.5" y2="411" stroke="#000" stroke-width="1" stroke-dasharray="1 1.3" shape-rendering="crispEdges"/>
<line x1="841.6" y1="418.3" x2="841.6" y2="423.3" stroke="#000" stroke-width="1.2"/>
<line x1="884.5" y1="249" x2="884.5" y2="274" stroke="#000" stroke-width="1" stroke-dasharray="1 1.3" shape-rendering="crispEdges"/>
<line x1="884.5" y1="283" x2="884.5" y2="328" stroke="#000" stroke-width="1" stroke-dasharray="1 1.3" shape-rendering="crispEdges"/>
<line x1="884.5" y1="331" x2="884.5" y2="332" stroke="#000" stroke-width="1" stroke-dasharray="1 1.3" shape-rendering="crispEdges"/>
<line x1="884.5" y1="338" x2="884.5" y2="357" stroke="#000" stroke-width="1" stroke-dasharray="1 1.3" shape-rendering="crispEdges"/>
<line x1="884.5" y1="363" x2="884.5" y2="392" stroke="#000" stroke-width="1" stroke-dasharray="1 1.3" shape-rendering="crispEdges"/>
<line x1="884.5" y1="397" x2="884.5" y2="411" stroke="#000" stroke-width="1" stroke-dasharray="1 1.3" shape-rendering="crispEdges"/>
<line x1="884.4" y1="418.3" x2="884.4" y2="423.3" stroke="#000" stroke-width="1.2"/>
<line x1="892.8" y1="259" x2="893.8" y2="259" stroke="#000" stroke-width="1"/>
<line x1="892.8" y1="267.9" x2="893.8" y2="267.9" stroke="#000" stroke-width="1"/>
<line x1="892.8" y1="294.4" x2="893.8" y2="294.4" stroke="#000" stroke-width="1"/>
<line x1="892.8" y1="303.2" x2="893.8" y2="303.2" stroke="#000" stroke-width="1"/>
<line x1="892.8" y1="312.1" x2="893.8" y2="312.1" stroke="#000" stroke-width="1"/>
<line x1="892.8" y1="320.9" x2="893.8" y2="320.9" stroke="#000" stroke-width="1"/>
<line x1="892.8" y1="338.6" x2="893.8" y2="338.6" stroke="#000" stroke-width="1"/>
<line x1="892.8" y1="347.5" x2="893.8" y2="347.5" stroke="#000" stroke-width="1"/>
<line x1="892.8" y1="356.4" x2="893.8" y2="356.4" stroke="#000" stroke-width="1"/>
<line x1="892.8" y1="374.1" x2="893.8" y2="374.1" stroke="#000" stroke-width="1"/>
<line x1="892.8" y1="391.8" x2="893.8" y2="391.8" stroke="#000" stroke-width="1"/>
<line x1="892.8" y1="400.6" x2="893.8" y2="400.6" stroke="#000" stroke-width="1"/>
<line x1="892.8" y1="409.5" x2="893.8" y2="409.5" stroke="#000" stroke-width="1"/>
<polyline points="670.3,283.7 690,282.8 710,282.2 760,282.2 800,282.6 850,282.8 905.8,282.8" fill="none" stroke="#b0243c" stroke-width="1.1" stroke-linejoin="round" stroke-linecap="round"/>
<line x1="682" y1="283.2" x2="690" y2="283.2" stroke="#b0243c" stroke-width="1.9"/>
<line x1="708" y1="281.8" x2="730" y2="281.8" stroke="#b0243c" stroke-width="1.9"/>
<line x1="762" y1="282.6" x2="790" y2="282.6" stroke="#b0243c" stroke-width="1.9"/>
<line x1="817" y1="281.5" x2="828" y2="281.5" stroke="#b0243c" stroke-width="1.9"/>
<line x1="854" y1="283.3" x2="863" y2="283.3" stroke="#b0243c" stroke-width="1.9"/>
<line x1="884" y1="283" x2="905" y2="283" stroke="#b0243c" stroke-width="1.9"/>
<line x1="664" y1="224.7" x2="670.3" y2="224.7" stroke="#000" stroke-width="1.2"/>
<line x1="664" y1="241.3" x2="670.3" y2="241.3" stroke="#000" stroke-width="1.2"/>
<line x1="905.8" y1="241.3" x2="911" y2="241.3" stroke="#000" stroke-width="1.2"/>
<line x1="905.8" y1="259" x2="910" y2="259" stroke="#000" stroke-width="1.2"/>
<line x1="905.8" y1="267.9" x2="910" y2="267.9" stroke="#000" stroke-width="1.2"/>
<line x1="905.8" y1="294.4" x2="910" y2="294.4" stroke="#000" stroke-width="1.2"/>
<line x1="905.8" y1="303.2" x2="910" y2="303.2" stroke="#000" stroke-width="1.2"/>
<line x1="905.8" y1="312.1" x2="910" y2="312.1" stroke="#000" stroke-width="1.2"/>
<line x1="905.8" y1="320.9" x2="910" y2="320.9" stroke="#000" stroke-width="1.2"/>
<line x1="905.8" y1="338.6" x2="910" y2="338.6" stroke="#000" stroke-width="1.2"/>
<line x1="905.8" y1="347.5" x2="910" y2="347.5" stroke="#000" stroke-width="1.2"/>
<line x1="905.8" y1="356.4" x2="910" y2="356.4" stroke="#000" stroke-width="1.2"/>
<line x1="905.8" y1="374.1" x2="912.5" y2="374.1" stroke="#000" stroke-width="1.2"/>
<line x1="905.8" y1="391.8" x2="910" y2="391.8" stroke="#000" stroke-width="1.2"/>
<line x1="905.8" y1="400.6" x2="910" y2="400.6" stroke="#000" stroke-width="1.2"/>
<line x1="905.8" y1="409.5" x2="910" y2="409.5" stroke="#000" stroke-width="1.2"/>
<text x="664" y="227.3" font-size="7.2" text-anchor="end" fill="#000" font-weight="bold">300</text>
<text x="664" y="243.9" font-size="7.2" text-anchor="end" fill="#000" font-weight="bold">100</text>
<text x="664" y="288.4" font-size="7.2" text-anchor="end" fill="#000" font-weight="bold">50</text>
<text x="664.5" y="332.6" font-size="7.2" text-anchor="end" fill="#000" font-weight="bold">0</text>
<text x="912" y="243.9" font-size="7.2" text-anchor="start" fill="#000" font-weight="bold">50</text>
<text x="912.5" y="288.4" font-size="7.2" text-anchor="start" fill="#000" font-weight="bold">25</text>
<text x="912.5" y="332.6" font-size="7.2" text-anchor="start" fill="#000" font-weight="bold">0</text>
<text x="914.5" y="376.9" font-size="7.2" text-anchor="start" fill="#000" font-weight="bold">25</text>
<text x="911.5" y="421.4" font-size="7.2" text-anchor="start" fill="#000" font-weight="bold">-50</text>
<text x="670.3" y="431.7" font-size="7.6" text-anchor="middle" fill="#000" font-weight="bold">1</text>
<text x="691.7" y="431.7" font-size="7.6" text-anchor="middle" fill="#000" font-weight="bold">2</text>
<text x="713.1" y="431.7" font-size="7.6" text-anchor="middle" fill="#000" font-weight="bold">3</text>
<text x="734.5" y="431.7" font-size="7.6" text-anchor="middle" fill="#000" font-weight="bold">4</text>
<text x="755.9" y="431.7" font-size="7.6" text-anchor="middle" fill="#000" font-weight="bold">5</text>
<text x="777.3" y="431.7" font-size="7.6" text-anchor="middle" fill="#000" font-weight="bold">6</text>
<text x="798.8" y="431.7" font-size="7.6" text-anchor="middle" fill="#000" font-weight="bold">7</text>
<text x="820.2" y="431.7" font-size="7.6" text-anchor="middle" fill="#000" font-weight="bold">8</text>
<text x="841.6" y="431.7" font-size="7.6" text-anchor="middle" fill="#000" font-weight="bold">9</text>
<text x="863" y="431.7" font-size="7.6" text-anchor="middle" fill="#000" font-weight="bold">10</text>
<text x="884.4" y="431.7" font-size="7.6" text-anchor="middle" fill="#000" font-weight="bold">11</text>
<text x="902.8" y="431.7" font-size="7.6" text-anchor="middle" fill="#000" font-weight="bold">12</text>
<text x="640" y="426" font-size="24" fill="#000">3</text>
</g>
<g id="c4">
<polygon points="56.7,589.7 56.7,589 75,588 100,587 113,584.5 126.7,581.7 143.3,578.3 151.7,568.3 158.3,560 165.5,551.7 176.7,544.2 187.5,537.5 198,539.8 209.5,542.5 215,548.3 231.7,565 242,574.5 253.3,584.7 264,586 275.5,587 298,587.5 298,589.7" fill="#5aaaff" stroke="none" stroke-width="0"/>
<line x1="64" y1="517.5" x2="298" y2="517.5" stroke="#000" stroke-width="1" stroke-dasharray="1 1.2 1 1.2 1 1.2 1 1.2 1 1.2 1 1.2 1 4 1 4.8" shape-rendering="crispEdges"/>
<line x1="64" y1="526.5" x2="298" y2="526.5" stroke="#000" stroke-width="1" stroke-dasharray="1 1.2 1 1.2 1 1.2 1 1.2 1 1.2 1 1.2 1 4 1 4.8" shape-rendering="crispEdges"/>
<line x1="64" y1="535.5" x2="298" y2="535.5" stroke="#000" stroke-width="1" stroke-dasharray="1 1.2 1 1.2 1 1.2 1 1.2 1 1.2 1 1.2 1 4 1 4.8" shape-rendering="crispEdges"/>
<line x1="64" y1="544.5" x2="298" y2="544.5" stroke="#000" stroke-width="1" stroke-dasharray="1 1.2 1 1.2 1 1.2 1 1.2 1 1.2 1 1.2 1 4 1 4.8" shape-rendering="crispEdges"/>
<line x1="64" y1="553.5" x2="298" y2="553.5" stroke="#000" stroke-width="1" stroke-dasharray="1 1.2 1 1.2 1 1.2 1 1.2 1 1.2 1 1.2 1 4 1 4.8" shape-rendering="crispEdges"/>
<line x1="64" y1="562.5" x2="298" y2="562.5" stroke="#000" stroke-width="1" stroke-dasharray="1 1.2 1 1.2 1 1.2 1 1.2 1 1.2 1 1.2 1 4 1 4.8" shape-rendering="crispEdges"/>
<line x1="64" y1="571.5" x2="298" y2="571.5" stroke="#000" stroke-width="1" stroke-dasharray="1 1.2 1 1.2 1 1.2 1 1.2 1 1.2 1 1.2 1 4 1 4.8" shape-rendering="crispEdges"/>
<line x1="64" y1="580.5" x2="298" y2="580.5" stroke="#000" stroke-width="1" stroke-dasharray="1 1.2 1 1.2 1 1.2 1 1.2 1 1.2 1 1.2 1 4 1 4.8" shape-rendering="crispEdges"/>
<line x1="64" y1="598.5" x2="298" y2="598.5" stroke="#000" stroke-width="1" stroke-dasharray="1 1.2 1 1.2 1 1.2 1 1.2 1 1.2 1 1.2 1 4 1 4.8" shape-rendering="crispEdges"/>
<line x1="64" y1="607.5" x2="298" y2="607.5" stroke="#000" stroke-width="1" stroke-dasharray="1 1.2 1 1.2 1 1.2 1 1.2 1 1.2 1 1.2 1 4 1 4.8" shape-rendering="crispEdges"/>
<line x1="64" y1="616.5" x2="298" y2="616.5" stroke="#000" stroke-width="1" stroke-dasharray="1 1.2 1 1.2 1 1.2 1 1.2 1 1.2 1 1.2 1 4 1 4.8" shape-rendering="crispEdges"/>
<line x1="64" y1="625.5" x2="298" y2="625.5" stroke="#000" stroke-width="1" stroke-dasharray="1 1.2 1 1.2 1 1.2 1 1.2 1 1.2 1 1.2 1 4 1 4.8" shape-rendering="crispEdges"/>
<line x1="64" y1="634.5" x2="298" y2="634.5" stroke="#000" stroke-width="1" stroke-dasharray="1 1.2 1 1.2 1 1.2 1 1.2 1 1.2 1 1.2 1 4 1 4.8" shape-rendering="crispEdges"/>
<line x1="64" y1="643.5" x2="298" y2="643.5" stroke="#000" stroke-width="1" stroke-dasharray="1 1.2 1 1.2 1 1.2 1 1.2 1 1.2 1 1.2 1 4 1 4.8" shape-rendering="crispEdges"/>
<line x1="64" y1="652.5" x2="298" y2="652.5" stroke="#000" stroke-width="1" stroke-dasharray="1 1.2 1 1.2 1 1.2 1 1.2 1 1.2 1 1.2 1 4 1 4.8" shape-rendering="crispEdges"/>
<line x1="64" y1="661.5" x2="298" y2="661.5" stroke="#000" stroke-width="1" stroke-dasharray="1 1.2 1 1.2 1 1.2 1 1.2 1 1.2 1 1.2 1 4 1 4.8" shape-rendering="crispEdges"/>
<line x1="64" y1="670.5" x2="298" y2="670.5" stroke="#000" stroke-width="1" stroke-dasharray="1 1.2 1 1.2 1 1.2 1 1.2 1 1.2 1 1.2 1 4 1 4.8" shape-rendering="crispEdges"/>
<line x1="144.5" y1="501" x2="144.5" y2="680" stroke="#000" stroke-width="1" stroke-dasharray="1 1.3" shape-rendering="crispEdges"/>
<line x1="166.5" y1="501" x2="166.5" y2="680" stroke="#000" stroke-width="1" stroke-dasharray="1 1.3" shape-rendering="crispEdges"/>
<line x1="188.5" y1="501" x2="188.5" y2="680" stroke="#000" stroke-width="1" stroke-dasharray="1 1.3" shape-rendering="crispEdges"/>
<line x1="210.5" y1="501" x2="210.5" y2="680" stroke="#000" stroke-width="1" stroke-dasharray="1 1.3" shape-rendering="crispEdges"/>
<line x1="232.5" y1="501" x2="232.5" y2="680" stroke="#000" stroke-width="1" stroke-dasharray="1 1.3" shape-rendering="crispEdges"/>
<line x1="254.5" y1="501" x2="254.5" y2="680" stroke="#000" stroke-width="1" stroke-dasharray="1 1.3" shape-rendering="crispEdges"/>
<line x1="276.5" y1="501" x2="276.5" y2="680" stroke="#000" stroke-width="1" stroke-dasharray="1 1.3" shape-rendering="crispEdges"/>
<polyline points="56.7,633 67,629.5 78.3,625.8 93.3,613.3 106.7,602.5 121.7,589 132,580 143.3,572 154,566.5 165.5,562.8 176,561 187.5,559.3 198,560.8 209.5,562.5 220,567.5 231.7,574 242,581.5 253.3,590 264,601 275.5,612.3 286,620.5 298,628.5" fill="none" stroke="#a01426" stroke-width="2.0" stroke-linejoin="round" stroke-linecap="round"/>
<line x1="50.8" y1="499.7" x2="302.5" y2="499.7" stroke="#000" stroke-width="1.3"/>
<line x1="50.8" y1="589.7" x2="302.5" y2="589.7" stroke="#000" stroke-width="1.4"/>
<line x1="56.7" y1="494.2" x2="56.7" y2="684.2" stroke="#000" stroke-width="1.3"/>
<line x1="298" y1="499.7" x2="298" y2="679.7" stroke="#000" stroke-width="1.3"/>
<line x1="56.7" y1="679.7" x2="302.5" y2="679.7" stroke="#000" stroke-width="1.3"/>
<line x1="50.8" y1="544.7" x2="56.7" y2="544.7" stroke="#000" stroke-width="1.2"/>
<line x1="298" y1="517.7" x2="302.5" y2="517.7" stroke="#000" stroke-width="1.2"/>
<line x1="298" y1="526.7" x2="302.5" y2="526.7" stroke="#000" stroke-width="1.2"/>
<line x1="298" y1="535.7" x2="302.5" y2="535.7" stroke="#000" stroke-width="1.2"/>
<line x1="298" y1="544.7" x2="302.5" y2="544.7" stroke="#000" stroke-width="1.2"/>
<line x1="298" y1="553.7" x2="302.5" y2="553.7" stroke="#000" stroke-width="1.2"/>
<line x1="298" y1="562.7" x2="302.5" y2="562.7" stroke="#000" stroke-width="1.2"/>
<line x1="298" y1="571.7" x2="302.5" y2="571.7" stroke="#000" stroke-width="1.2"/>
<line x1="298" y1="580.7" x2="302.5" y2="580.7" stroke="#000" stroke-width="1.2"/>
<line x1="298" y1="598.7" x2="302.5" y2="598.7" stroke="#000" stroke-width="1.2"/>
<line x1="298" y1="607.7" x2="302.5" y2="607.7" stroke="#000" stroke-width="1.2"/>
<line x1="298" y1="616.7" x2="302.5" y2="616.7" stroke="#000" stroke-width="1.2"/>
<line x1="298" y1="625.7" x2="302.5" y2="625.7" stroke="#000" stroke-width="1.2"/>
<line x1="298" y1="634.7" x2="302.5" y2="634.7" stroke="#000" stroke-width="1.2"/>
<line x1="298" y1="643.7" x2="302.5" y2="643.7" stroke="#000" stroke-width="1.2"/>
<line x1="298" y1="652.7" x2="302.5" y2="652.7" stroke="#000" stroke-width="1.2"/>
<line x1="298" y1="661.7" x2="302.5" y2="661.7" stroke="#000" stroke-width="1.2"/>
<line x1="298" y1="670.7" x2="302.5" y2="670.7" stroke="#000" stroke-width="1.2"/>
<line x1="56.7" y1="679.7" x2="56.7" y2="684.2" stroke="#000" stroke-width="1.2"/>
<line x1="144.4" y1="679.7" x2="144.4" y2="684.2" stroke="#000" stroke-width="1.2"/>
<line x1="166.4" y1="679.7" x2="166.4" y2="684.2" stroke="#000" stroke-width="1.2"/>
<line x1="188.3" y1="679.7" x2="188.3" y2="684.2" stroke="#000" stroke-width="1.2"/>
<line x1="210.3" y1="679.7" x2="210.3" y2="684.2" stroke="#000" stroke-width="1.2"/>
<line x1="232.2" y1="679.7" x2="232.2" y2="684.2" stroke="#000" stroke-width="1.2"/>
<line x1="254.1" y1="679.7" x2="254.1" y2="684.2" stroke="#000" stroke-width="1.2"/>
<line x1="276.1" y1="679.7" x2="276.1" y2="684.2" stroke="#000" stroke-width="1.2"/>
<line x1="298" y1="679.7" x2="298" y2="684.2" stroke="#000" stroke-width="1.2"/>
<text x="50.3" y="502.2" font-size="7" text-anchor="end" fill="#000" font-weight="bold">100</text>
<text x="50.3" y="547.2" font-size="7" text-anchor="end" fill="#000" font-weight="bold">50</text>
<text x="50.3" y="592.2" font-size="7" text-anchor="end" fill="#000" font-weight="bold">0</text>
<text x="304" y="502.2" font-size="7" text-anchor="start" fill="#000" font-weight="bold">50</text>
<text x="304" y="547.2" font-size="7" text-anchor="start" fill="#000" font-weight="bold">25</text>
<text x="304" y="592.2" font-size="7" text-anchor="start" fill="#000" font-weight="bold">0</text>
<text x="303" y="637.2" font-size="6.6" text-anchor="start" fill="#000" font-weight="bold">-25</text>
<text x="303" y="681.9" font-size="6.6" text-anchor="start" fill="#000" font-weight="bold">-50</text>
<text x="56.7" y="692.6" font-size="6" text-anchor="middle" fill="#444">1</text>
<text x="78.6" y="692.6" font-size="6" text-anchor="middle" fill="#444">2</text>
<text x="100.6" y="692.6" font-size="6" text-anchor="middle" fill="#444">3</text>
<text x="122.5" y="692.6" font-size="6" text-anchor="middle" fill="#444">4</text>
<text x="144.4" y="692.6" font-size="6" text-anchor="middle" fill="#444">5</text>
<text x="166.4" y="692.6" font-size="6" text-anchor="middle" fill="#444">6</text>
<text x="188.3" y="692.6" font-size="6" text-anchor="middle" fill="#444">7</text>
<text x="210.3" y="692.6" font-size="6" text-anchor="middle" fill="#444">8</text>
<text x="232.2" y="692.6" font-size="6" text-anchor="middle" fill="#444">9</text>
<text x="254.1" y="692.6" font-size="6" text-anchor="middle" fill="#444">10</text>
<text x="276.1" y="692.6" font-size="6" text-anchor="middle" fill="#444">11</text>
<text x="298" y="692.6" font-size="6" text-anchor="middle" fill="#444">12</text>
<text x="31" y="680.8" font-size="24" fill="#000">4</text>
</g>
<g id="c5">
<polygon points="364.7,584.2 364.7,573 375.8,575 387.5,575 396.7,565 407.5,556.7 420,553.7 429.5,553 436.7,558.3 446.7,570 451.7,575 463.3,579.2 471.7,583.2 494.7,583.5 520,584.2 545,584.2 559.5,583 570,581.5 581.3,579.2 595,572.5 603,569.2 603,584.2" fill="#5aaaff" stroke="none" stroke-width="0"/>
<line x1="369" y1="507.5" x2="607" y2="507.5" stroke="#000" stroke-width="1" stroke-dasharray="1 1 1 5 1 1 1 1 1 1 1 1 1 1 1 4" shape-rendering="crispEdges"/>
<line x1="369" y1="526.5" x2="607" y2="526.5" stroke="#000" stroke-width="1" stroke-dasharray="1 1 1 5 1 1 1 1 1 1 1 1 1 1 1 4" shape-rendering="crispEdges"/>
<line x1="369" y1="536.5" x2="607" y2="536.5" stroke="#000" stroke-width="1" stroke-dasharray="1 1 1 5 1 1 1 1 1 1 1 1 1 1 1 4" shape-rendering="crispEdges"/>
<line x1="369" y1="546.5" x2="607" y2="546.5" stroke="#000" stroke-width="1" stroke-dasharray="1 1 1 5 1 1 1 1 1 1 1 1 1 1 1 4" shape-rendering="crispEdges"/>
<line x1="369" y1="555.5" x2="607" y2="555.5" stroke="#000" stroke-width="1" stroke-dasharray="1 1 1 5 1 1 1 1 1 1 1 1 1 1 1 4" shape-rendering="crispEdges"/>
<line x1="369" y1="565.5" x2="607" y2="565.5" stroke="#000" stroke-width="1" stroke-dasharray="1 1 1 5 1 1 1 1 1 1 1 1 1 1 1 4" shape-rendering="crispEdges"/>
<line x1="369" y1="603.5" x2="607" y2="603.5" stroke="#000" stroke-width="1" stroke-dasharray="1 1 1 5 1 1 1 1 1 1 1 1 1 1 1 4" shape-rendering="crispEdges"/>
<line x1="369" y1="622.5" x2="607" y2="622.5" stroke="#000" stroke-width="1" stroke-dasharray="1 1 1 5 1 1 1 1 1 1 1 1 1 1 1 4" shape-rendering="crispEdges"/>
<line x1="369" y1="632.5" x2="607" y2="632.5" stroke="#000" stroke-width="1" stroke-dasharray="1 1 1 5 1 1 1 1 1 1 1 1 1 1 1 4" shape-rendering="crispEdges"/>
<line x1="369" y1="641.5" x2="607" y2="641.5" stroke="#000" stroke-width="1" stroke-dasharray="1 1 1 5 1 1 1 1 1 1 1 1 1 1 1 4" shape-rendering="crispEdges"/>
<line x1="369" y1="651.5" x2="607" y2="651.5" stroke="#000" stroke-width="1" stroke-dasharray="1 1 1 5 1 1 1 1 1 1 1 1 1 1 1 4" shape-rendering="crispEdges"/>
<line x1="369" y1="660.5" x2="607" y2="660.5" stroke="#000" stroke-width="1" stroke-dasharray="1 1 1 5 1 1 1 1 1 1 1 1 1 1 1 4" shape-rendering="crispEdges"/>
<line x1="369" y1="670.5" x2="607" y2="670.5" stroke="#000" stroke-width="1" stroke-dasharray="1 1 1 5 1 1 1 1 1 1 1 1 1 1 1 4" shape-rendering="crispEdges"/>
<line x1="408.5" y1="489" x2="408.5" y2="502" stroke="#000" stroke-width="1" stroke-dasharray="1 1.3" shape-rendering="crispEdges"/>
<line x1="408.5" y1="506" x2="408.5" y2="522" stroke="#000" stroke-width="1" stroke-dasharray="1 1.3" shape-rendering="crispEdges"/>
<line x1="408.5" y1="528" x2="408.5" y2="542" stroke="#000" stroke-width="1" stroke-dasharray="1 1.3" shape-rendering="crispEdges"/>
<line x1="408.5" y1="546" x2="408.5" y2="580" stroke="#000" stroke-width="1" stroke-dasharray="1 1.3" shape-rendering="crispEdges"/>
<line x1="408.5" y1="586" x2="408.5" y2="600" stroke="#000" stroke-width="1" stroke-dasharray="1 1.3" shape-rendering="crispEdges"/>
<line x1="408.5" y1="603" x2="408.5" y2="614" stroke="#000" stroke-width="1" stroke-dasharray="1 1.3" shape-rendering="crispEdges"/>
<line x1="408.5" y1="619" x2="408.5" y2="646" stroke="#000" stroke-width="1" stroke-dasharray="1 1.3" shape-rendering="crispEdges"/>
<line x1="408.5" y1="650" x2="408.5" y2="674" stroke="#000" stroke-width="1" stroke-dasharray="1 1.3" shape-rendering="crispEdges"/>
<line x1="408.5" y1="677" x2="408.5" y2="679" stroke="#000" stroke-width="1" stroke-dasharray="1 1.3" shape-rendering="crispEdges"/>
<line x1="408" y1="680.5" x2="408" y2="685.2" stroke="#000" stroke-width="1.2"/>
<line x1="429.5" y1="489" x2="429.5" y2="502" stroke="#000" stroke-width="1" stroke-dasharray="1 1.3" shape-rendering="crispEdges"/>
<line x1="429.5" y1="506" x2="429.5" y2="522" stroke="#000" stroke-width="1" stroke-dasharray="1 1.3" shape-rendering="crispEdges"/>
<line x1="429.5" y1="528" x2="429.5" y2="542" stroke="#000" stroke-width="1" stroke-dasharray="1 1.3" shape-rendering="crispEdges"/>
<line x1="429.5" y1="546" x2="429.5" y2="580" stroke="#000" stroke-width="1" stroke-dasharray="1 1.3" shape-rendering="crispEdges"/>
<line x1="429.5" y1="586" x2="429.5" y2="600" stroke="#000" stroke-width="1" stroke-dasharray="1 1.3" shape-rendering="crispEdges"/>
<line x1="429.5" y1="603" x2="429.5" y2="614" stroke="#000" stroke-width="1" stroke-dasharray="1 1.3" shape-rendering="crispEdges"/>
<line x1="429.5" y1="619" x2="429.5" y2="646" stroke="#000" stroke-width="1" stroke-dasharray="1 1.3" shape-rendering="crispEdges"/>
<line x1="429.5" y1="650" x2="429.5" y2="674" stroke="#000" stroke-width="1" stroke-dasharray="1 1.3" shape-rendering="crispEdges"/>
<line x1="429.5" y1="677" x2="429.5" y2="679" stroke="#000" stroke-width="1" stroke-dasharray="1 1.3" shape-rendering="crispEdges"/>
<line x1="429.7" y1="680.5" x2="429.7" y2="685.2" stroke="#000" stroke-width="1.2"/>
<line x1="494.5" y1="489" x2="494.5" y2="502" stroke="#000" stroke-width="1" stroke-dasharray="1 1.3" shape-rendering="crispEdges"/>
<line x1="494.5" y1="506" x2="494.5" y2="522" stroke="#000" stroke-width="1" stroke-dasharray="1 1.3" shape-rendering="crispEdges"/>
<line x1="494.5" y1="528" x2="494.5" y2="542" stroke="#000" stroke-width="1" stroke-dasharray="1 1.3" shape-rendering="crispEdges"/>
<line x1="494.5" y1="546" x2="494.5" y2="580" stroke="#000" stroke-width="1" stroke-dasharray="1 1.3" shape-rendering="crispEdges"/>
<line x1="494.5" y1="586" x2="494.5" y2="600" stroke="#000" stroke-width="1" stroke-dasharray="1 1.3" shape-rendering="crispEdges"/>
<line x1="494.5" y1="603" x2="494.5" y2="614" stroke="#000" stroke-width="1" stroke-dasharray="1 1.3" shape-rendering="crispEdges"/>
<line x1="494.5" y1="619" x2="494.5" y2="646" stroke="#000" stroke-width="1" stroke-dasharray="1 1.3" shape-rendering="crispEdges"/>
<line x1="494.5" y1="650" x2="494.5" y2="674" stroke="#000" stroke-width="1" stroke-dasharray="1 1.3" shape-rendering="crispEdges"/>
<line x1="494.5" y1="677" x2="494.5" y2="679" stroke="#000" stroke-width="1" stroke-dasharray="1 1.3" shape-rendering="crispEdges"/>
<line x1="494.7" y1="680.5" x2="494.7" y2="685.2" stroke="#000" stroke-width="1.2"/>
<line x1="516.5" y1="489" x2="516.5" y2="502" stroke="#000" stroke-width="1" stroke-dasharray="1 1.3" shape-rendering="crispEdges"/>
<line x1="516.5" y1="506" x2="516.5" y2="522" stroke="#000" stroke-width="1" stroke-dasharray="1 1.3" shape-rendering="crispEdges"/>
<line x1="516.5" y1="528" x2="516.5" y2="542" stroke="#000" stroke-width="1" stroke-dasharray="1 1.3" shape-rendering="crispEdges"/>
<line x1="516.5" y1="546" x2="516.5" y2="580" stroke="#000" stroke-width="1" stroke-dasharray="1 1.3" shape-rendering="crispEdges"/>
<line x1="516.5" y1="586" x2="516.5" y2="600" stroke="#000" stroke-width="1" stroke-dasharray="1 1.3" shape-rendering="crispEdges"/>
<line x1="516.5" y1="603" x2="516.5" y2="614" stroke="#000" stroke-width="1" stroke-dasharray="1 1.3" shape-rendering="crispEdges"/>
<line x1="516.5" y1="619" x2="516.5" y2="646" stroke="#000" stroke-width="1" stroke-dasharray="1 1.3" shape-rendering="crispEdges"/>
<line x1="516.5" y1="650" x2="516.5" y2="674" stroke="#000" stroke-width="1" stroke-dasharray="1 1.3" shape-rendering="crispEdges"/>
<line x1="516.5" y1="677" x2="516.5" y2="679" stroke="#000" stroke-width="1" stroke-dasharray="1 1.3" shape-rendering="crispEdges"/>
<line x1="516.3" y1="680.5" x2="516.3" y2="685.2" stroke="#000" stroke-width="1.2"/>
<line x1="559.5" y1="489" x2="559.5" y2="502" stroke="#000" stroke-width="1" stroke-dasharray="1 1.3" shape-rendering="crispEdges"/>
<line x1="559.5" y1="506" x2="559.5" y2="522" stroke="#000" stroke-width="1" stroke-dasharray="1 1.3" shape-rendering="crispEdges"/>
<line x1="559.5" y1="528" x2="559.5" y2="542" stroke="#000" stroke-width="1" stroke-dasharray="1 1.3" shape-rendering="crispEdges"/>
<line x1="559.5" y1="546" x2="559.5" y2="580" stroke="#000" stroke-width="1" stroke-dasharray="1 1.3" shape-rendering="crispEdges"/>
<line x1="559.5" y1="586" x2="559.5" y2="600" stroke="#000" stroke-width="1" stroke-dasharray="1 1.3" shape-rendering="crispEdges"/>
<line x1="559.5" y1="603" x2="559.5" y2="614" stroke="#000" stroke-width="1" stroke-dasharray="1 1.3" shape-rendering="crispEdges"/>
<line x1="559.5" y1="619" x2="559.5" y2="646" stroke="#000" stroke-width="1" stroke-dasharray="1 1.3" shape-rendering="crispEdges"/>
<line x1="559.5" y1="650" x2="559.5" y2="674" stroke="#000" stroke-width="1" stroke-dasharray="1 1.3" shape-rendering="crispEdges"/>
<line x1="559.5" y1="677" x2="559.5" y2="679" stroke="#000" stroke-width="1" stroke-dasharray="1 1.3" shape-rendering="crispEdges"/>
<line x1="559.7" y1="680.5" x2="559.7" y2="685.2" stroke="#000" stroke-width="1.2"/>
<line x1="581.5" y1="489" x2="581.5" y2="502" stroke="#000" stroke-width="1" stroke-dasharray="1 1.3" shape-rendering="crispEdges"/>
<line x1="581.5" y1="506" x2="581.5" y2="522" stroke="#000" stroke-width="1" stroke-dasharray="1 1.3" shape-rendering="crispEdges"/>
<line x1="581.5" y1="528" x2="581.5" y2="542" stroke="#000" stroke-width="1" stroke-dasharray="1 1.3" shape-rendering="crispEdges"/>
<line x1="581.5" y1="546" x2="581.5" y2="580" stroke="#000" stroke-width="1" stroke-dasharray="1 1.3" shape-rendering="crispEdges"/>
<line x1="581.5" y1="586" x2="581.5" y2="600" stroke="#000" stroke-width="1" stroke-dasharray="1 1.3" shape-rendering="crispEdges"/>
<line x1="581.5" y1="603" x2="581.5" y2="614" stroke="#000" stroke-width="1" stroke-dasharray="1 1.3" shape-rendering="crispEdges"/>
<line x1="581.5" y1="619" x2="581.5" y2="646" stroke="#000" stroke-width="1" stroke-dasharray="1 1.3" shape-rendering="crispEdges"/>
<line x1="581.5" y1="650" x2="581.5" y2="674" stroke="#000" stroke-width="1" stroke-dasharray="1 1.3" shape-rendering="crispEdges"/>
<line x1="581.5" y1="677" x2="581.5" y2="679" stroke="#000" stroke-width="1" stroke-dasharray="1 1.3" shape-rendering="crispEdges"/>
<line x1="581.3" y1="680.5" x2="581.3" y2="685.2" stroke="#000" stroke-width="1.2"/>
<polyline points="364.7,557 376,554.5 388.3,551.7 407.5,544.2 429.5,535.3 450,523.8 461,521 473.3,518.7 484,517 494.7,515.8 505,516 516.3,516.7 526,518.5 536.7,521.7 548,526.8 559.5,532.5 581.3,543.7 603,555" fill="none" stroke="#a81420" stroke-width="2.5" stroke-linejoin="round" stroke-linecap="round"/>
<line x1="358" y1="487.5" x2="608.3" y2="487.5" stroke="#000" stroke-width="1.4"/>
<line x1="358" y1="584.2" x2="608.3" y2="584.2" stroke="#000" stroke-width="1.4"/>
<line x1="364.7" y1="480.8" x2="364.7" y2="685.2" stroke="#000" stroke-width="1.4"/>
<line x1="364.7" y1="680.5" x2="608.3" y2="680.5" stroke="#000" stroke-width="1.4"/>
<line x1="358" y1="535.9" x2="364.7" y2="535.9" stroke="#000" stroke-width="1.2"/>
<line x1="603" y1="507.2" x2="608.3" y2="507.2" stroke="#000" stroke-width="1.2"/>
<line x1="603" y1="526.7" x2="608.3" y2="526.7" stroke="#000" stroke-width="1.2"/>
<line x1="603" y1="536.4" x2="608.3" y2="536.4" stroke="#000" stroke-width="1.2"/>
<line x1="603" y1="546.1" x2="608.3" y2="546.1" stroke="#000" stroke-width="1.2"/>
<line x1="603" y1="555.8" x2="608.3" y2="555.8" stroke="#000" stroke-width="1.2"/>
<line x1="603" y1="565.6" x2="608.3" y2="565.6" stroke="#000" stroke-width="1.2"/>
<line x1="603" y1="603.4" x2="608.3" y2="603.4" stroke="#000" stroke-width="1.2"/>
<line x1="603" y1="622.6" x2="608.3" y2="622.6" stroke="#000" stroke-width="1.2"/>
<line x1="603" y1="632.2" x2="608.3" y2="632.2" stroke="#000" stroke-width="1.2"/>
<line x1="603" y1="641.8" x2="608.3" y2="641.8" stroke="#000" stroke-width="1.2"/>
<line x1="603" y1="651.4" x2="608.3" y2="651.4" stroke="#000" stroke-width="1.2"/>
<line x1="603" y1="661" x2="608.3" y2="661" stroke="#000" stroke-width="1.2"/>
<line x1="603" y1="670.6" x2="608.3" y2="670.6" stroke="#000" stroke-width="1.2"/>
<text x="357.5" y="490.1" font-size="7.4" text-anchor="end" fill="#000" font-weight="bold">100</text>
<text x="357.5" y="538.5" font-size="7.4" text-anchor="end" fill="#000" font-weight="bold">50</text>
<text x="357.5" y="586.8" font-size="7.4" text-anchor="end" fill="#000" font-weight="bold">0</text>
<text x="609.7" y="490.1" font-size="7.4" text-anchor="start" fill="#000" font-weight="bold">50</text>
<text x="609.7" y="539" font-size="7.4" text-anchor="start" fill="#000" font-weight="bold">25</text>
<text x="609.7" y="586.8" font-size="7.4" text-anchor="start" fill="#000" font-weight="bold">0</text>
<text x="608.5" y="634.8" font-size="7.2" text-anchor="start" fill="#000" font-weight="bold">-25</text>
<text x="608.5" y="683.4" font-size="7.2" text-anchor="start" fill="#000" font-weight="bold">-50</text>
<text x="364.7" y="695" font-size="7" text-anchor="middle" fill="#444" font-weight="bold">1</text>
<text x="386.4" y="695" font-size="7" text-anchor="middle" fill="#444" font-weight="bold">2</text>
<text x="408" y="695" font-size="7" text-anchor="middle" fill="#444" font-weight="bold">3</text>
<text x="429.7" y="695" font-size="7" text-anchor="middle" fill="#444" font-weight="bold">4</text>
<text x="451.4" y="695" font-size="7" text-anchor="middle" fill="#444" font-weight="bold">5</text>
<text x="473" y="695" font-size="7" text-anchor="middle" fill="#444" font-weight="bold">6</text>
<text x="494.7" y="695" font-size="7" text-anchor="middle" fill="#444" font-weight="bold">7</text>
<text x="516.3" y="695" font-size="7" text-anchor="middle" fill="#444" font-weight="bold">8</text>
<text x="538" y="695" font-size="7" text-anchor="middle" fill="#444" font-weight="bold">9</text>
<text x="559.7" y="695" font-size="7" text-anchor="middle" fill="#444" font-weight="bold">10</text>
<text x="581.3" y="695" font-size="7" text-anchor="middle" fill="#444" font-weight="bold">11</text>
<text x="603" y="695" font-size="7" text-anchor="middle" fill="#444" font-weight="bold">12</text>
<text x="340" y="681" font-size="24" fill="#000">5</text>
</g>
<g id="c6">
<polygon points="672,583.3 672,519.2 693.3,519.2 700,515.8 714.5,512.5 718.3,505 725,490 728.3,488 869,488 873.3,494 885,505.8 896.7,516.7 906.7,524.2 906.7,583.3" fill="#57a8ff" stroke="none" stroke-width="0"/>
<polygon points="733,488.6 733,486.6 764,486.6 764,488.6" fill="#00008c" stroke="none" stroke-width="0"/>
<polygon points="791.7,488.6 791.7,486.8 826,486.5 832,485 848,485 853,486.6 858,487 858,488.6" fill="#00008c" stroke="none" stroke-width="0"/>
<line x1="673" y1="507.5" x2="686" y2="507.5" stroke="#000" stroke-width="1" stroke-dasharray="1 1" shape-rendering="crispEdges"/>
<line x1="699" y1="507.5" x2="712" y2="507.5" stroke="#000" stroke-width="1" stroke-dasharray="1 1" shape-rendering="crispEdges"/>
<line x1="723" y1="507.5" x2="736" y2="507.5" stroke="#000" stroke-width="1" stroke-dasharray="1 1" shape-rendering="crispEdges"/>
<line x1="749" y1="507.5" x2="762" y2="507.5" stroke="#000" stroke-width="1" stroke-dasharray="1 1" shape-rendering="crispEdges"/>
<line x1="773" y1="507.5" x2="786" y2="507.5" stroke="#000" stroke-width="1" stroke-dasharray="1 1" shape-rendering="crispEdges"/>
<line x1="800" y1="507.5" x2="812" y2="507.5" stroke="#000" stroke-width="1" stroke-dasharray="1 1" shape-rendering="crispEdges"/>
<line x1="821" y1="507.5" x2="838" y2="507.5" stroke="#000" stroke-width="1" stroke-dasharray="1 1" shape-rendering="crispEdges"/>
<line x1="848" y1="507.5" x2="860" y2="507.5" stroke="#000" stroke-width="1" stroke-dasharray="1 1" shape-rendering="crispEdges"/>
<line x1="873" y1="507.5" x2="886" y2="507.5" stroke="#000" stroke-width="1" stroke-dasharray="1 1" shape-rendering="crispEdges"/>
<line x1="899" y1="507.5" x2="906" y2="507.5" stroke="#000" stroke-width="1" stroke-dasharray="1 1" shape-rendering="crispEdges"/>
<line x1="673" y1="516.5" x2="686" y2="516.5" stroke="#000" stroke-width="1" stroke-dasharray="1 1" shape-rendering="crispEdges"/>
<line x1="699" y1="516.5" x2="712" y2="516.5" stroke="#000" stroke-width="1" stroke-dasharray="1 1" shape-rendering="crispEdges"/>
<line x1="723" y1="516.5" x2="736" y2="516.5" stroke="#000" stroke-width="1" stroke-dasharray="1 1" shape-rendering="crispEdges"/>
<line x1="749" y1="516.5" x2="762" y2="516.5" stroke="#000" stroke-width="1" stroke-dasharray="1 1" shape-rendering="crispEdges"/>
<line x1="773" y1="516.5" x2="786" y2="516.5" stroke="#000" stroke-width="1" stroke-dasharray="1 1" shape-rendering="crispEdges"/>
<line x1="800" y1="516.5" x2="812" y2="516.5" stroke="#000" stroke-width="1" stroke-dasharray="1 1" shape-rendering="crispEdges"/>
<line x1="821" y1="516.5" x2="838" y2="516.5" stroke="#000" stroke-width="1" stroke-dasharray="1 1" shape-rendering="crispEdges"/>
<line x1="848" y1="516.5" x2="860" y2="516.5" stroke="#000" stroke-width="1" stroke-dasharray="1 1" shape-rendering="crispEdges"/>
<line x1="873" y1="516.5" x2="886" y2="516.5" stroke="#000" stroke-width="1" stroke-dasharray="1 1" shape-rendering="crispEdges"/>
<line x1="899" y1="516.5" x2="906" y2="516.5" stroke="#000" stroke-width="1" stroke-dasharray="1 1" shape-rendering="crispEdges"/>
<line x1="673" y1="535.5" x2="686" y2="535.5" stroke="#000" stroke-width="1" stroke-dasharray="1 1" shape-rendering="crispEdges"/>
<line x1="699" y1="535.5" x2="712" y2="535.5" stroke="#000" stroke-width="1" stroke-dasharray="1 1" shape-rendering="crispEdges"/>
<line x1="723" y1="535.5" x2="736" y2="535.5" stroke="#000" stroke-width="1" stroke-dasharray="1 1" shape-rendering="crispEdges"/>
<line x1="749" y1="535.5" x2="762" y2="535.5" stroke="#000" stroke-width="1" stroke-dasharray="1 1" shape-rendering="crispEdges"/>
<line x1="773" y1="535.5" x2="786" y2="535.5" stroke="#000" stroke-width="1" stroke-dasharray="1 1" shape-rendering="crispEdges"/>
<line x1="800" y1="535.5" x2="812" y2="535.5" stroke="#000" stroke-width="1" stroke-dasharray="1 1" shape-rendering="crispEdges"/>
<line x1="821" y1="535.5" x2="838" y2="535.5" stroke="#000" stroke-width="1" stroke-dasharray="1 1" shape-rendering="crispEdges"/>
<line x1="848" y1="535.5" x2="860" y2="535.5" stroke="#000" stroke-width="1" stroke-dasharray="1 1" shape-rendering="crispEdges"/>
<line x1="873" y1="535.5" x2="886" y2="535.5" stroke="#000" stroke-width="1" stroke-dasharray="1 1" shape-rendering="crispEdges"/>
<line x1="899" y1="535.5" x2="906" y2="535.5" stroke="#000" stroke-width="1" stroke-dasharray="1 1" shape-rendering="crispEdges"/>
<line x1="673" y1="545.5" x2="686" y2="545.5" stroke="#000" stroke-width="1" stroke-dasharray="1 1" shape-rendering="crispEdges"/>
<line x1="699" y1="545.5" x2="712" y2="545.5" stroke="#000" stroke-width="1" stroke-dasharray="1 1" shape-rendering="crispEdges"/>
<line x1="723" y1="545.5" x2="736" y2="545.5" stroke="#000" stroke-width="1" stroke-dasharray="1 1" shape-rendering="crispEdges"/>
<line x1="749" y1="545.5" x2="762" y2="545.5" stroke="#000" stroke-width="1" stroke-dasharray="1 1" shape-rendering="crispEdges"/>
<line x1="773" y1="545.5" x2="786" y2="545.5" stroke="#000" stroke-width="1" stroke-dasharray="1 1" shape-rendering="crispEdges"/>
<line x1="800" y1="545.5" x2="812" y2="545.5" stroke="#000" stroke-width="1" stroke-dasharray="1 1" shape-rendering="crispEdges"/>
<line x1="821" y1="545.5" x2="838" y2="545.5" stroke="#000" stroke-width="1" stroke-dasharray="1 1" shape-rendering="crispEdges"/>
<line x1="848" y1="545.5" x2="860" y2="545.5" stroke="#000" stroke-width="1" stroke-dasharray="1 1" shape-rendering="crispEdges"/>
<line x1="873" y1="545.5" x2="886" y2="545.5" stroke="#000" stroke-width="1" stroke-dasharray="1 1" shape-rendering="crispEdges"/>
<line x1="899" y1="545.5" x2="906" y2="545.5" stroke="#000" stroke-width="1" stroke-dasharray="1 1" shape-rendering="crispEdges"/>
<line x1="673" y1="554.5" x2="686" y2="554.5" stroke="#000" stroke-width="1" stroke-dasharray="1 1" shape-rendering="crispEdges"/>
<line x1="699" y1="554.5" x2="712" y2="554.5" stroke="#000" stroke-width="1" stroke-dasharray="1 1" shape-rendering="crispEdges"/>
<line x1="723" y1="554.5" x2="736" y2="554.5" stroke="#000" stroke-width="1" stroke-dasharray="1 1" shape-rendering="crispEdges"/>
<line x1="749" y1="554.5" x2="762" y2="554.5" stroke="#000" stroke-width="1" stroke-dasharray="1 1" shape-rendering="crispEdges"/>
<line x1="773" y1="554.5" x2="786" y2="554.5" stroke="#000" stroke-width="1" stroke-dasharray="1 1" shape-rendering="crispEdges"/>
<line x1="800" y1="554.5" x2="812" y2="554.5" stroke="#000" stroke-width="1" stroke-dasharray="1 1" shape-rendering="crispEdges"/>
<line x1="821" y1="554.5" x2="838" y2="554.5" stroke="#000" stroke-width="1" stroke-dasharray="1 1" shape-rendering="crispEdges"/>
<line x1="848" y1="554.5" x2="860" y2="554.5" stroke="#000" stroke-width="1" stroke-dasharray="1 1" shape-rendering="crispEdges"/>
<line x1="873" y1="554.5" x2="886" y2="554.5" stroke="#000" stroke-width="1" stroke-dasharray="1 1" shape-rendering="crispEdges"/>
<line x1="899" y1="554.5" x2="906" y2="554.5" stroke="#000" stroke-width="1" stroke-dasharray="1 1" shape-rendering="crispEdges"/>
<line x1="673" y1="564.5" x2="686" y2="564.5" stroke="#000" stroke-width="1" stroke-dasharray="1 1" shape-rendering="crispEdges"/>
<line x1="699" y1="564.5" x2="712" y2="564.5" stroke="#000" stroke-width="1" stroke-dasharray="1 1" shape-rendering="crispEdges"/>
<line x1="723" y1="564.5" x2="736" y2="564.5" stroke="#000" stroke-width="1" stroke-dasharray="1 1" shape-rendering="crispEdges"/>
<line x1="749" y1="564.5" x2="762" y2="564.5" stroke="#000" stroke-width="1" stroke-dasharray="1 1" shape-rendering="crispEdges"/>
<line x1="773" y1="564.5" x2="786" y2="564.5" stroke="#000" stroke-width="1" stroke-dasharray="1 1" shape-rendering="crispEdges"/>
<line x1="800" y1="564.5" x2="812" y2="564.5" stroke="#000" stroke-width="1" stroke-dasharray="1 1" shape-rendering="crispEdges"/>
<line x1="821" y1="564.5" x2="838" y2="564.5" stroke="#000" stroke-width="1" stroke-dasharray="1 1" shape-rendering="crispEdges"/>
<line x1="848" y1="564.5" x2="860" y2="564.5" stroke="#000" stroke-width="1" stroke-dasharray="1 1" shape-rendering="crispEdges"/>
<line x1="873" y1="564.5" x2="886" y2="564.5" stroke="#000" stroke-width="1" stroke-dasharray="1 1" shape-rendering="crispEdges"/>
<line x1="899" y1="564.5" x2="906" y2="564.5" stroke="#000" stroke-width="1" stroke-dasharray="1 1" shape-rendering="crispEdges"/>
<line x1="673" y1="602.5" x2="686" y2="602.5" stroke="#000" stroke-width="1" stroke-dasharray="1 1" shape-rendering="crispEdges"/>
<line x1="699" y1="602.5" x2="712" y2="602.5" stroke="#000" stroke-width="1" stroke-dasharray="1 1" shape-rendering="crispEdges"/>
<line x1="723" y1="602.5" x2="736" y2="602.5" stroke="#000" stroke-width="1" stroke-dasharray="1 1" shape-rendering="crispEdges"/>
<line x1="749" y1="602.5" x2="762" y2="602.5" stroke="#000" stroke-width="1" stroke-dasharray="1 1" shape-rendering="crispEdges"/>
<line x1="773" y1="602.5" x2="786" y2="602.5" stroke="#000" stroke-width="1" stroke-dasharray="1 1" shape-rendering="crispEdges"/>
<line x1="800" y1="602.5" x2="812" y2="602.5" stroke="#000" stroke-width="1" stroke-dasharray="1 1" shape-rendering="crispEdges"/>
<line x1="821" y1="602.5" x2="838" y2="602.5" stroke="#000" stroke-width="1" stroke-dasharray="1 1" shape-rendering="crispEdges"/>
<line x1="848" y1="602.5" x2="860" y2="602.5" stroke="#000" stroke-width="1" stroke-dasharray="1 1" shape-rendering="crispEdges"/>
<line x1="873" y1="602.5" x2="886" y2="602.5" stroke="#000" stroke-width="1" stroke-dasharray="1 1" shape-rendering="crispEdges"/>
<line x1="899" y1="602.5" x2="906" y2="602.5" stroke="#000" stroke-width="1" stroke-dasharray="1 1" shape-rendering="crispEdges"/>
<line x1="673" y1="611.5" x2="686" y2="611.5" stroke="#000" stroke-width="1" stroke-dasharray="1 1" shape-rendering="crispEdges"/>
<line x1="699" y1="611.5" x2="712" y2="611.5" stroke="#000" stroke-width="1" stroke-dasharray="1 1" shape-rendering="crispEdges"/>
<line x1="723" y1="611.5" x2="736" y2="611.5" stroke="#000" stroke-width="1" stroke-dasharray="1 1" shape-rendering="crispEdges"/>
<line x1="749" y1="611.5" x2="762" y2="611.5" stroke="#000" stroke-width="1" stroke-dasharray="1 1" shape-rendering="crispEdges"/>
<line x1="773" y1="611.5" x2="786" y2="611.5" stroke="#000" stroke-width="1" stroke-dasharray="1 1" shape-rendering="crispEdges"/>
<line x1="800" y1="611.5" x2="812" y2="611.5" stroke="#000" stroke-width="1" stroke-dasharray="1 1" shape-rendering="crispEdges"/>
<line x1="821" y1="611.5" x2="838" y2="611.5" stroke="#000" stroke-width="1" stroke-dasharray="1 1" shape-rendering="crispEdges"/>
<line x1="848" y1="611.5" x2="860" y2="611.5" stroke="#000" stroke-width="1" stroke-dasharray="1 1" shape-rendering="crispEdges"/>
<line x1="873" y1="611.5" x2="886" y2="611.5" stroke="#000" stroke-width="1" stroke-dasharray="1 1" shape-rendering="crispEdges"/>
<line x1="899" y1="611.5" x2="906" y2="611.5" stroke="#000" stroke-width="1" stroke-dasharray="1 1" shape-rendering="crispEdges"/>
<line x1="673" y1="621.5" x2="686" y2="621.5" stroke="#000" stroke-width="1" stroke-dasharray="1 1" shape-rendering="crispEdges"/>
<line x1="699" y1="621.5" x2="712" y2="621.5" stroke="#000" stroke-width="1" stroke-dasharray="1 1" shape-rendering="crispEdges"/>
<line x1="723" y1="621.5" x2="736" y2="621.5" stroke="#000" stroke-width="1" stroke-dasharray="1 1" shape-rendering="crispEdges"/>
<line x1="749" y1="621.5" x2="762" y2="621.5" stroke="#000" stroke-width="1" stroke-dasharray="1 1" shape-rendering="crispEdges"/>
<line x1="773" y1="621.5" x2="786" y2="621.5" stroke="#000" stroke-width="1" stroke-dasharray="1 1" shape-rendering="crispEdges"/>
<line x1="800" y1="621.5" x2="812" y2="621.5" stroke="#000" stroke-width="1" stroke-dasharray="1 1" shape-rendering="crispEdges"/>
<line x1="821" y1="621.5" x2="838" y2="621.5" stroke="#000" stroke-width="1" stroke-dasharray="1 1" shape-rendering="crispEdges"/>
<line x1="848" y1="621.5" x2="860" y2="621.5" stroke="#000" stroke-width="1" stroke-dasharray="1 1" shape-rendering="crispEdges"/>
<line x1="873" y1="621.5" x2="886" y2="621.5" stroke="#000" stroke-width="1" stroke-dasharray="1 1" shape-rendering="crispEdges"/>
<line x1="899" y1="621.5" x2="906" y2="621.5" stroke="#000" stroke-width="1" stroke-dasharray="1 1" shape-rendering="crispEdges"/>
<line x1="673" y1="630.5" x2="686" y2="630.5" stroke="#000" stroke-width="1" stroke-dasharray="1 1" shape-rendering="crispEdges"/>
<line x1="699" y1="630.5" x2="712" y2="630.5" stroke="#000" stroke-width="1" stroke-dasharray="1 1" shape-rendering="crispEdges"/>
<line x1="723" y1="630.5" x2="736" y2="630.5" stroke="#000" stroke-width="1" stroke-dasharray="1 1" shape-rendering="crispEdges"/>
<line x1="749" y1="630.5" x2="762" y2="630.5" stroke="#000" stroke-width="1" stroke-dasharray="1 1" shape-rendering="crispEdges"/>
<line x1="773" y1="630.5" x2="786" y2="630.5" stroke="#000" stroke-width="1" stroke-dasharray="1 1" shape-rendering="crispEdges"/>
<line x1="800" y1="630.5" x2="812" y2="630.5" stroke="#000" stroke-width="1" stroke-dasharray="1 1" shape-rendering="crispEdges"/>
<line x1="821" y1="630.5" x2="838" y2="630.5" stroke="#000" stroke-width="1" stroke-dasharray="1 1" shape-rendering="crispEdges"/>
<line x1="848" y1="630.5" x2="860" y2="630.5" stroke="#000" stroke-width="1" stroke-dasharray="1 1" shape-rendering="crispEdges"/>
<line x1="873" y1="630.5" x2="886" y2="630.5" stroke="#000" stroke-width="1" stroke-dasharray="1 1" shape-rendering="crispEdges"/>
<line x1="899" y1="630.5" x2="906" y2="630.5" stroke="#000" stroke-width="1" stroke-dasharray="1 1" shape-rendering="crispEdges"/>
<line x1="673" y1="640.5" x2="686" y2="640.5" stroke="#000" stroke-width="1" stroke-dasharray="1 1" shape-rendering="crispEdges"/>
<line x1="699" y1="640.5" x2="712" y2="640.5" stroke="#000" stroke-width="1" stroke-dasharray="1 1" shape-rendering="crispEdges"/>
<line x1="723" y1="640.5" x2="736" y2="640.5" stroke="#000" stroke-width="1" stroke-dasharray="1 1" shape-rendering="crispEdges"/>
<line x1="749" y1="640.5" x2="762" y2="640.5" stroke="#000" stroke-width="1" stroke-dasharray="1 1" shape-rendering="crispEdges"/>
<line x1="773" y1="640.5" x2="786" y2="640.5" stroke="#000" stroke-width="1" stroke-dasharray="1 1" shape-rendering="crispEdges"/>
<line x1="800" y1="640.5" x2="812" y2="640.5" stroke="#000" stroke-width="1" stroke-dasharray="1 1" shape-rendering="crispEdges"/>
<line x1="821" y1="640.5" x2="838" y2="640.5" stroke="#000" stroke-width="1" stroke-dasharray="1 1" shape-rendering="crispEdges"/>
<line x1="848" y1="640.5" x2="860" y2="640.5" stroke="#000" stroke-width="1" stroke-dasharray="1 1" shape-rendering="crispEdges"/>
<line x1="873" y1="640.5" x2="886" y2="640.5" stroke="#000" stroke-width="1" stroke-dasharray="1 1" shape-rendering="crispEdges"/>
<line x1="899" y1="640.5" x2="906" y2="640.5" stroke="#000" stroke-width="1" stroke-dasharray="1 1" shape-rendering="crispEdges"/>
<line x1="673" y1="659.5" x2="686" y2="659.5" stroke="#000" stroke-width="1" stroke-dasharray="1 1" shape-rendering="crispEdges"/>
<line x1="699" y1="659.5" x2="712" y2="659.5" stroke="#000" stroke-width="1" stroke-dasharray="1 1" shape-rendering="crispEdges"/>
<line x1="723" y1="659.5" x2="736" y2="659.5" stroke="#000" stroke-width="1" stroke-dasharray="1 1" shape-rendering="crispEdges"/>
<line x1="749" y1="659.5" x2="762" y2="659.5" stroke="#000" stroke-width="1" stroke-dasharray="1 1" shape-rendering="crispEdges"/>
<line x1="773" y1="659.5" x2="786" y2="659.5" stroke="#000" stroke-width="1" stroke-dasharray="1 1" shape-rendering="crispEdges"/>
<line x1="800" y1="659.5" x2="812" y2="659.5" stroke="#000" stroke-width="1" stroke-dasharray="1 1" shape-rendering="crispEdges"/>
<line x1="821" y1="659.5" x2="838" y2="659.5" stroke="#000" stroke-width="1" stroke-dasharray="1 1" shape-rendering="crispEdges"/>
<line x1="848" y1="659.5" x2="860" y2="659.5" stroke="#000" stroke-width="1" stroke-dasharray="1 1" shape-rendering="crispEdges"/>
<line x1="873" y1="659.5" x2="886" y2="659.5" stroke="#000" stroke-width="1" stroke-dasharray="1 1" shape-rendering="crispEdges"/>
<line x1="899" y1="659.5" x2="906" y2="659.5" stroke="#000" stroke-width="1" stroke-dasharray="1 1" shape-rendering="crispEdges"/>
<line x1="673" y1="669.5" x2="686" y2="669.5" stroke="#000" stroke-width="1" stroke-dasharray="1 1" shape-rendering="crispEdges"/>
<line x1="699" y1="669.5" x2="712" y2="669.5" stroke="#000" stroke-width="1" stroke-dasharray="1 1" shape-rendering="crispEdges"/>
<line x1="723" y1="669.5" x2="736" y2="669.5" stroke="#000" stroke-width="1" stroke-dasharray="1 1" shape-rendering="crispEdges"/>
<line x1="749" y1="669.5" x2="762" y2="669.5" stroke="#000" stroke-width="1" stroke-dasharray="1 1" shape-rendering="crispEdges"/>
<line x1="773" y1="669.5" x2="786" y2="669.5" stroke="#000" stroke-width="1" stroke-dasharray="1 1" shape-rendering="crispEdges"/>
<line x1="800" y1="669.5" x2="812" y2="669.5" stroke="#000" stroke-width="1" stroke-dasharray="1 1" shape-rendering="crispEdges"/>
<line x1="821" y1="669.5" x2="838" y2="669.5" stroke="#000" stroke-width="1" stroke-dasharray="1 1" shape-rendering="crispEdges"/>
<line x1="848" y1="669.5" x2="860" y2="669.5" stroke="#000" stroke-width="1" stroke-dasharray="1 1" shape-rendering="crispEdges"/>
<line x1="873" y1="669.5" x2="886" y2="669.5" stroke="#000" stroke-width="1" stroke-dasharray="1 1" shape-rendering="crispEdges"/>
<line x1="899" y1="669.5" x2="906" y2="669.5" stroke="#000" stroke-width="1" stroke-dasharray="1 1" shape-rendering="crispEdges"/>
<line x1="693.5" y1="490" x2="693.5" y2="568" stroke="#000" stroke-width="1" stroke-dasharray="1 1.3" shape-rendering="crispEdges"/>
<line x1="693.5" y1="584" x2="693.5" y2="605" stroke="#000" stroke-width="1" stroke-dasharray="1 1.3" shape-rendering="crispEdges"/>
<line x1="693.5" y1="618" x2="693.5" y2="644" stroke="#000" stroke-width="1" stroke-dasharray="1 1.3" shape-rendering="crispEdges"/>
<line x1="693.5" y1="656" x2="693.5" y2="678" stroke="#000" stroke-width="1" stroke-dasharray="1 1.3" shape-rendering="crispEdges"/>
<line x1="693.3" y1="678" x2="693.3" y2="683" stroke="#000" stroke-width="1.2"/>
<line x1="714.5" y1="490" x2="714.5" y2="568" stroke="#000" stroke-width="1" stroke-dasharray="1 1.3" shape-rendering="crispEdges"/>
<line x1="714.5" y1="584" x2="714.5" y2="605" stroke="#000" stroke-width="1" stroke-dasharray="1 1.3" shape-rendering="crispEdges"/>
<line x1="714.5" y1="618" x2="714.5" y2="644" stroke="#000" stroke-width="1" stroke-dasharray="1 1.3" shape-rendering="crispEdges"/>
<line x1="714.5" y1="656" x2="714.5" y2="678" stroke="#000" stroke-width="1" stroke-dasharray="1 1.3" shape-rendering="crispEdges"/>
<line x1="714.7" y1="678" x2="714.7" y2="683" stroke="#000" stroke-width="1.2"/>
<line x1="736.5" y1="490" x2="736.5" y2="568" stroke="#000" stroke-width="1" stroke-dasharray="1 1.3" shape-rendering="crispEdges"/>
<line x1="736.5" y1="584" x2="736.5" y2="605" stroke="#000" stroke-width="1" stroke-dasharray="1 1.3" shape-rendering="crispEdges"/>
<line x1="736.5" y1="618" x2="736.5" y2="644" stroke="#000" stroke-width="1" stroke-dasharray="1 1.3" shape-rendering="crispEdges"/>
<line x1="736.5" y1="656" x2="736.5" y2="678" stroke="#000" stroke-width="1" stroke-dasharray="1 1.3" shape-rendering="crispEdges"/>
<line x1="736" y1="678" x2="736" y2="683" stroke="#000" stroke-width="1.2"/>
<line x1="800.5" y1="490" x2="800.5" y2="568" stroke="#000" stroke-width="1" stroke-dasharray="1 1.3" shape-rendering="crispEdges"/>
<line x1="800.5" y1="584" x2="800.5" y2="605" stroke="#000" stroke-width="1" stroke-dasharray="1 1.3" shape-rendering="crispEdges"/>
<line x1="800.5" y1="618" x2="800.5" y2="644" stroke="#000" stroke-width="1" stroke-dasharray="1 1.3" shape-rendering="crispEdges"/>
<line x1="800.5" y1="656" x2="800.5" y2="678" stroke="#000" stroke-width="1" stroke-dasharray="1 1.3" shape-rendering="crispEdges"/>
<line x1="800" y1="678" x2="800" y2="683" stroke="#000" stroke-width="1.2"/>
<line x1="821.5" y1="490" x2="821.5" y2="568" stroke="#000" stroke-width="1" stroke-dasharray="1 1.3" shape-rendering="crispEdges"/>
<line x1="821.5" y1="584" x2="821.5" y2="605" stroke="#000" stroke-width="1" stroke-dasharray="1 1.3" shape-rendering="crispEdges"/>
<line x1="821.5" y1="618" x2="821.5" y2="644" stroke="#000" stroke-width="1" stroke-dasharray="1 1.3" shape-rendering="crispEdges"/>
<line x1="821.5" y1="656" x2="821.5" y2="678" stroke="#000" stroke-width="1" stroke-dasharray="1 1.3" shape-rendering="crispEdges"/>
<line x1="821.4" y1="678" x2="821.4" y2="683" stroke="#000" stroke-width="1.2"/>
<line x1="842.5" y1="490" x2="842.5" y2="568" stroke="#000" stroke-width="1" stroke-dasharray="1 1.3" shape-rendering="crispEdges"/>
<line x1="842.5" y1="584" x2="842.5" y2="605" stroke="#000" stroke-width="1" stroke-dasharray="1 1.3" shape-rendering="crispEdges"/>
<line x1="842.5" y1="618" x2="842.5" y2="644" stroke="#000" stroke-width="1" stroke-dasharray="1 1.3" shape-rendering="crispEdges"/>
<line x1="842.5" y1="656" x2="842.5" y2="678" stroke="#000" stroke-width="1" stroke-dasharray="1 1.3" shape-rendering="crispEdges"/>
<line x1="842.7" y1="678" x2="842.7" y2="683" stroke="#000" stroke-width="1.2"/>
<line x1="864.5" y1="490" x2="864.5" y2="568" stroke="#000" stroke-width="1" stroke-dasharray="1 1.3" shape-rendering="crispEdges"/>
<line x1="864.5" y1="584" x2="864.5" y2="605" stroke="#000" stroke-width="1" stroke-dasharray="1 1.3" shape-rendering="crispEdges"/>
<line x1="864.5" y1="618" x2="864.5" y2="644" stroke="#000" stroke-width="1" stroke-dasharray="1 1.3" shape-rendering="crispEdges"/>
<line x1="864.5" y1="656" x2="864.5" y2="678" stroke="#000" stroke-width="1" stroke-dasharray="1 1.3" shape-rendering="crispEdges"/>
<line x1="864" y1="678" x2="864" y2="683" stroke="#000" stroke-width="1.2"/>
<line x1="885.5" y1="490" x2="885.5" y2="568" stroke="#000" stroke-width="1" stroke-dasharray="1 1.3" shape-rendering="crispEdges"/>
<line x1="885.5" y1="584" x2="885.5" y2="605" stroke="#000" stroke-width="1" stroke-dasharray="1 1.3" shape-rendering="crispEdges"/>
<line x1="885.5" y1="618" x2="885.5" y2="644" stroke="#000" stroke-width="1" stroke-dasharray="1 1.3" shape-rendering="crispEdges"/>
<line x1="885.5" y1="656" x2="885.5" y2="678" stroke="#000" stroke-width="1" stroke-dasharray="1 1.3" shape-rendering="crispEdges"/>
<line x1="885.4" y1="678" x2="885.4" y2="683" stroke="#000" stroke-width="1.2"/>
<polyline points="672,562 682,561.3 693.3,560 704,558.3 714.5,556.2 725,553.5 735.5,550.8 750,545.8 766.7,542.5 780,539.2 790,537.5 800.5,536.7 815,538 828,540.3 842.5,543 853,546.3 864.5,550 875,553 885.5,556.2 896,559.3 906.7,562" fill="none" stroke="#a22448" stroke-width="2.2" stroke-linejoin="round" stroke-linecap="round"/>
<line x1="665" y1="488" x2="911.7" y2="488" stroke="#000" stroke-width="1.4"/>
<line x1="665" y1="583.3" x2="911.7" y2="583.3" stroke="#000" stroke-width="1.4"/>
<line x1="672" y1="480" x2="672" y2="488" stroke="#000" stroke-width="1.3"/>
<line x1="672" y1="678" x2="911.7" y2="678" stroke="#000" stroke-width="1.1"/>
<line x1="665" y1="535.6" x2="672" y2="535.6" stroke="#000" stroke-width="1.2"/>
<line x1="906.7" y1="507.1" x2="911.7" y2="507.1" stroke="#000" stroke-width="1.2"/>
<line x1="906.7" y1="516.6" x2="911.7" y2="516.6" stroke="#000" stroke-width="1.2"/>
<line x1="906.7" y1="535.6" x2="911.7" y2="535.6" stroke="#000" stroke-width="1.2"/>
<line x1="906.7" y1="545.2" x2="911.7" y2="545.2" stroke="#000" stroke-width="1.2"/>
<line x1="906.7" y1="554.7" x2="911.7" y2="554.7" stroke="#000" stroke-width="1.2"/>
<line x1="906.7" y1="564.2" x2="911.7" y2="564.2" stroke="#000" stroke-width="1.2"/>
<line x1="906.7" y1="602.4" x2="911.7" y2="602.4" stroke="#000" stroke-width="1.2"/>
<line x1="906.7" y1="611.9" x2="911.7" y2="611.9" stroke="#000" stroke-width="1.2"/>
<line x1="906.7" y1="621.4" x2="911.7" y2="621.4" stroke="#000" stroke-width="1.2"/>
<line x1="906.7" y1="630.9" x2="911.7" y2="630.9" stroke="#000" stroke-width="1.2"/>
<line x1="906.7" y1="640.5" x2="911.7" y2="640.5" stroke="#000" stroke-width="1.2"/>
<line x1="906.7" y1="659.5" x2="911.7" y2="659.5" stroke="#000" stroke-width="1.2"/>
<line x1="906.7" y1="669.1" x2="911.7" y2="669.1" stroke="#000" stroke-width="1.2"/>
<text x="665" y="490.7" font-size="7.3" text-anchor="end" fill="#000" font-weight="bold">100</text>
<text x="665" y="538.4" font-size="7.3" text-anchor="end" fill="#000" font-weight="bold">50</text>
<text x="665" y="586" font-size="7.3" text-anchor="end" fill="#000" font-weight="bold">0</text>
<text x="914" y="490.7" font-size="7.3" text-anchor="start" fill="#000" font-weight="bold">50</text>
<text x="914" y="538.6" font-size="7.3" text-anchor="start" fill="#000" font-weight="bold">25</text>
<text x="914" y="586" font-size="7.3" text-anchor="start" fill="#000" font-weight="bold">0</text>
<text x="913" y="633.4" font-size="7" text-anchor="start" fill="#000" font-weight="bold">-25</text>
<text x="913" y="681" font-size="7" text-anchor="start" fill="#000" font-weight="bold">-50</text>
<text x="672" y="698" font-size="11" text-anchor="middle" fill="#111">J</text>
<text x="693.3" y="698" font-size="11" text-anchor="middle" fill="#111">A</text>
<text x="714.7" y="698" font-size="11" text-anchor="middle" fill="#111">S</text>
<text x="736" y="698" font-size="11" text-anchor="middle" fill="#111">O</text>
<text x="757.3" y="698" font-size="11" text-anchor="middle" fill="#111">N</text>
<text x="778.7" y="698" font-size="11" text-anchor="middle" fill="#111">D</text>
<text x="800" y="698" font-size="11" text-anchor="middle" fill="#111">J</text>
<text x="821.4" y="698" font-size="11" text-anchor="middle" fill="#111">F</text>
<text x="842.7" y="698" font-size="11" text-anchor="middle" fill="#111">M</text>
<text x="864" y="698" font-size="11" text-anchor="middle" fill="#111">A</text>
<text x="885.4" y="698" font-size="11" text-anchor="middle" fill="#111">M</text>
<text x="906.7" y="698" font-size="11" text-anchor="middle" fill="#111">J</text>
<text x="646.5" y="681" font-size="24" fill="#000">6</text>
</g>
</svg>
</body></html>
